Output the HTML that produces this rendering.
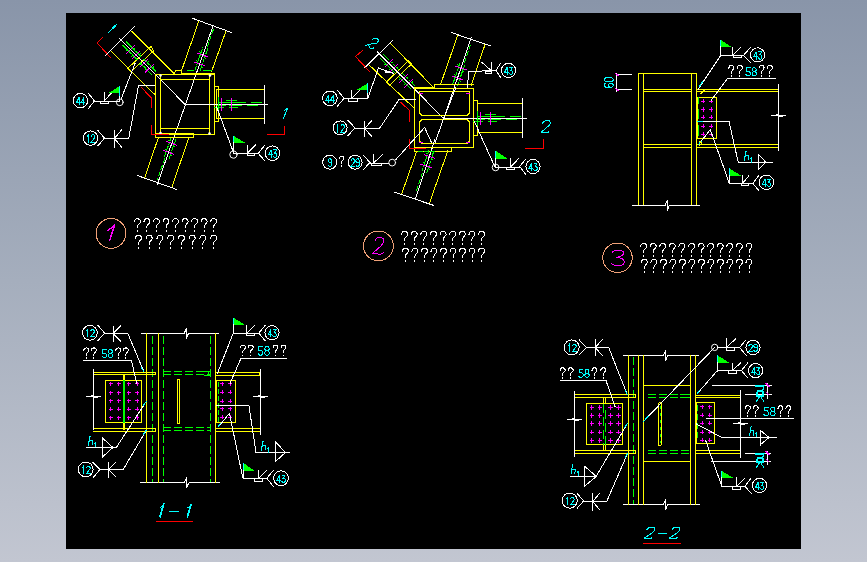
<!DOCTYPE html>
<html><head><meta charset="utf-8"><style>
html,body{margin:0;padding:0;width:867px;height:562px;overflow:hidden;}
body{background:linear-gradient(to bottom,#8995a9 0%,#a5aebd 50%,#c2c6d1 100%);position:relative;font-family:"Liberation Sans",sans-serif;}
#cad{position:absolute;left:66px;top:13px;width:735px;height:536px;background:#000;}
svg{position:absolute;left:0;top:0;}
</style></head><body>
<div id="cad"></div>
<svg width="867" height="562" viewBox="0 0 867 562" fill="none" stroke-linecap="square" shape-rendering="crispEdges">
<polyline points="131.8,31.1 174,73.5" stroke="#ffff00" stroke-width="1"/>
<polyline points="110.5,50.5 155.3,95" stroke="#ffff00" stroke-width="1"/>
<polyline points="105.6,55.6 134.9,26.2" stroke="#ffffff" stroke-width="1"/>
<polyline points="127.8,68.3 150.9,46.5" stroke="#ffff00" stroke-width="1"/>
<polyline points="130.9,71.8 153.6,50.9" stroke="#ffff00" stroke-width="1"/>
<polyline points="127.8,68.3 130.9,71.8" stroke="#ffff00" stroke-width="1"/>
<polyline points="150.9,46.5 153.6,50.9" stroke="#ffff00" stroke-width="1"/>
<polyline points="118.9,38 185.4,104.7" stroke="#ffffff" stroke-width="1"/>
<polyline points="126.32,41.9 140.44,56.06" stroke="#00ff00" stroke-width="1" stroke-dasharray="3,1.5"/>
<polyline points="122.78,45.43 136.9,59.59" stroke="#00ff00" stroke-width="1" stroke-dasharray="3,1.5"/>
<polyline points="143.97,59.6 155.97,71.64" stroke="#00ff00" stroke-width="1" stroke-dasharray="3,1.5"/>
<polyline points="140.43,63.13 152.43,75.17" stroke="#00ff00" stroke-width="1" stroke-dasharray="3,1.5"/>
<polyline points="134.37,45.73 131.19,48.91" stroke="#ff00ff" stroke-width="1"/>
<polyline points="129.77,50.32 126.58,53.5" stroke="#ff00ff" stroke-width="1"/>
<polyline points="134.72,48.21 134.02,48.91" stroke="#00ff00" stroke-width="1"/>
<polyline points="126.94,50.32 126.23,51.02" stroke="#00ff00" stroke-width="1"/>
<polyline points="139.88,51.25 136.69,54.43" stroke="#ff00ff" stroke-width="1"/>
<polyline points="135.28,55.84 132.09,59.02" stroke="#ff00ff" stroke-width="1"/>
<polyline points="140.23,53.73 139.52,54.44" stroke="#00ff00" stroke-width="1"/>
<polyline points="132.45,55.84 131.74,56.55" stroke="#00ff00" stroke-width="1"/>
<polyline points="147.93,59.33 144.74,62.5" stroke="#ff00ff" stroke-width="1"/>
<polyline points="143.33,63.92 140.14,67.09" stroke="#ff00ff" stroke-width="1"/>
<polyline points="148.28,61.8 147.57,62.51" stroke="#00ff00" stroke-width="1"/>
<polyline points="140.5,63.91 139.79,64.62" stroke="#00ff00" stroke-width="1"/>
<polyline points="153.15,64.57 149.97,67.75" stroke="#ff00ff" stroke-width="1"/>
<polyline points="148.55,69.16 145.36,72.33" stroke="#ff00ff" stroke-width="1"/>
<polyline points="153.5,67.04 152.8,67.75" stroke="#00ff00" stroke-width="1"/>
<polyline points="145.72,69.15 145.02,69.86" stroke="#00ff00" stroke-width="1"/>
<polyline points="118.9,38 185.4,104.7" stroke="#ffffff" stroke-width="1"/>
<polyline points="198.7,21.4 181.6,70.5" stroke="#ffff00" stroke-width="1"/>
<polyline points="226.1,30.6 211.6,71.6" stroke="#ffff00" stroke-width="1"/>
<polyline points="192.2,18.2 231.8,32.6" stroke="#ffffff" stroke-width="1"/>
<polyline points="212.8,26.6 185.4,104.7" stroke="#ffffff" stroke-width="1"/>
<polyline points="195.29,68.96 202.9,47.26" stroke="#00ff00" stroke-width="1" stroke-dasharray="3,1.5"/>
<polyline points="200.01,70.61 207.62,48.91" stroke="#00ff00" stroke-width="1" stroke-dasharray="3,1.5"/>
<polyline points="207.34,46.69 213.3,29.71" stroke="#00ff00" stroke-width="1" stroke-dasharray="4,3"/>
<polyline points="194.51,62.12 198.76,63.6" stroke="#ff00ff" stroke-width="1"/>
<polyline points="200.64,64.27 204.89,65.76" stroke="#ff00ff" stroke-width="1"/>
<polyline points="196.59,60.72 197.53,61.06" stroke="#00ff00" stroke-width="1"/>
<polyline points="201.87,66.82 202.81,67.15" stroke="#00ff00" stroke-width="1"/>
<polyline points="197.62,53.25 201.87,54.73" stroke="#ff00ff" stroke-width="1"/>
<polyline points="203.76,55.4 208,56.89" stroke="#ff00ff" stroke-width="1"/>
<polyline points="199.7,51.85 200.64,52.19" stroke="#00ff00" stroke-width="1"/>
<polyline points="204.98,57.95 205.93,58.28" stroke="#00ff00" stroke-width="1"/>
<polyline points="212.8,26.6 185.4,104.7" stroke="#ffffff" stroke-width="1"/>
<polyline points="187,70.5 193,70.5" stroke="#00ff00" stroke-width="1"/>
<polyline points="203.5,70.5 211.6,70.5" stroke="#00ff00" stroke-width="1"/>
<polyline points="174,73.5 175.7,70.6 181,70.6 181.5,72" stroke="#ffff00" stroke-width="1"/>
<polyline points="158.4,137.6 144.7,177.6" stroke="#ffff00" stroke-width="1"/>
<polyline points="188.9,137.6 171.8,187.4" stroke="#ffff00" stroke-width="1"/>
<polyline points="137.3,175.5 176.8,189.5" stroke="#ffffff" stroke-width="1"/>
<polyline points="185.4,104.7 157.2,184.7" stroke="#ffffff" stroke-width="1"/>
<polyline points="175.79,139.48 169.14,158.35" stroke="#00ff00" stroke-width="1" stroke-dasharray="3,1.5"/>
<polyline points="171.07,137.82 164.42,156.68" stroke="#00ff00" stroke-width="1" stroke-dasharray="3,1.5"/>
<polyline points="164.7,158.9 157.39,179.65" stroke="#00ff00" stroke-width="1" stroke-dasharray="4,3"/>
<polyline points="176.96,145.2 172.71,143.7" stroke="#ff00ff" stroke-width="1"/>
<polyline points="170.83,143.04 166.58,141.54" stroke="#ff00ff" stroke-width="1"/>
<polyline points="174.88,146.58 173.93,146.25" stroke="#00ff00" stroke-width="1"/>
<polyline points="169.61,140.48 168.66,140.15" stroke="#00ff00" stroke-width="1"/>
<polyline points="173.8,154.16 169.55,152.66" stroke="#ff00ff" stroke-width="1"/>
<polyline points="167.67,152 163.42,150.5" stroke="#ff00ff" stroke-width="1"/>
<polyline points="171.72,155.54 170.78,155.21" stroke="#00ff00" stroke-width="1"/>
<polyline points="166.45,149.44 165.5,149.11" stroke="#00ff00" stroke-width="1"/>
<polyline points="185.4,104.7 157.2,184.7" stroke="#ffffff" stroke-width="1"/>
<polyline points="158,137.6 184,137.6" stroke="#00ff00" stroke-width="1" stroke-dasharray="5,2"/>
<rect x="155.5" y="133.5" width="38" height="4" stroke="#ffff00" stroke-width="1"/>
<polyline points="155.5,135 155.5,74.5 214.5,74.5 214.5,134.5 155.5,134.5" stroke="#ffff00" stroke-width="1"/>
<polyline points="181.5,73.5 214.5,73.5" stroke="#ffff00" stroke-width="1"/>
<rect x="160.5" y="79.5" width="49" height="49" stroke="#ffff00" stroke-width="1"/>
<polyline points="160.5,74.5 160.5,134" stroke="#ffff00" stroke-width="1"/>
<polyline points="209.5,74.5 209.5,134" stroke="#ffff00" stroke-width="1"/>
<circle cx="160.5" cy="75.5" r="1.3" stroke="#ffffff" stroke-width="0" fill="#ffffff" shape-rendering="geometricPrecision"/>
<circle cx="210" cy="75.5" r="1.3" stroke="#ffffff" stroke-width="0" fill="#ffffff" shape-rendering="geometricPrecision"/>
<circle cx="160.5" cy="133" r="1.3" stroke="#ffffff" stroke-width="0" fill="#ffffff" shape-rendering="geometricPrecision"/>
<circle cx="209.5" cy="133.5" r="1.3" stroke="#ffffff" stroke-width="0" fill="#ffffff" shape-rendering="geometricPrecision"/>
<rect x="214.5" y="86.5" width="4" height="35" stroke="#ffff00" stroke-width="1"/>
<polyline points="216.5,89.5 264.5,89.5" stroke="#ffff00" stroke-width="1"/>
<polyline points="216.5,118.5 264.5,118.5" stroke="#ffff00" stroke-width="1"/>
<polyline points="216.5,89.5 216.5,118.5" stroke="#ffff00" stroke-width="1"/>
<polyline points="264.5,85 264.5,123" stroke="#ffffff" stroke-width="1"/>
<polyline points="185.4,104.5 267.2,104.5" stroke="#ffffff" stroke-width="1"/>
<polyline points="219,102.5 245,102.5" stroke="#00ff00" stroke-width="1"/>
<polyline points="251,102.5 261,102.5" stroke="#00ff00" stroke-width="1"/>
<polyline points="217.5,105.5 225,105.5" stroke="#00ff00" stroke-width="1"/>
<polyline points="229,105.5 241,105.5" stroke="#00ff00" stroke-width="1"/>
<polyline points="247,105.5 257,105.5" stroke="#00ff00" stroke-width="1"/>
<polyline points="226,100.5 236,100.5" stroke="#00ff00" stroke-width="1"/>
<polyline points="214,107.5 223,107.5" stroke="#00ff00" stroke-width="1"/>
<polyline points="229,107.5 237,107.5" stroke="#00ff00" stroke-width="1"/>
<polyline points="221.5,98.7 221.5,110" stroke="#ff00ff" stroke-width="1"/>
<polyline points="231.5,98.7 231.5,110" stroke="#ff00ff" stroke-width="1"/>
<polyline points="218.5,97 218.5,111" stroke="#00ff00" stroke-width="1"/>
<polyline points="102.9,37.3 97,42.8 110.6,57.7" stroke="#ff0000" stroke-width="1"/>
<polyline points="108.3,32.5 116.6,24.4" stroke="#00ffff" stroke-width="1"/>
<polyline points="112.5,27.5 116.6,24.4" stroke="#00ffff" stroke-width="1"/>
<polyline points="109,32 115.5,26" stroke="#00ffff" stroke-width="1"/>
<polyline points="267.2,134.5 284.5,134.5 284.5,126.2" stroke="#ff0000" stroke-width="1"/>
<polyline points="283,119 288,108" stroke="#00ffff" stroke-width="1"/>
<polyline points="284.5,110.5 288,108" stroke="#00ffff" stroke-width="1"/>
<polyline points="283.5,118.5 287,109" stroke="#00ffff" stroke-width="1"/>
<polyline points="141.2,87.3 151.5,98 151.5,107.2" stroke="#ff0000" stroke-width="1"/>
<polyline points="151.5,125.1 151.5,134 168.8,134" stroke="#ff0000" stroke-width="1"/>
<circle cx="80.4" cy="100.6" r="7.2" stroke="#ffffff" stroke-width="1" fill="none"/>
<path d="M 79.16,104.7 L 79.16,97.3 L 76.5,102.39 L 80,102.39" stroke="#00ffff" stroke-width="1" fill="none"/>
<path d="M 83.86,104.7 L 83.86,97.3 L 81.2,102.39 L 84.7,102.39" stroke="#00ffff" stroke-width="1" fill="none"/>
<polyline points="88.3,93.1 94.4,101.1 88.3,108.7" stroke="#ffffff" stroke-width="1"/>
<polyline points="94.4,101.5 119.8,101.5" stroke="#ffffff" stroke-width="1"/>
<rect x="100.5" y="101.5" width="8" height="2" stroke="#ffffff" stroke-width="1"/>
<polyline points="104.5,92.1 104.5,101.5" stroke="#ffffff" stroke-width="1"/>
<polyline points="104.4,100.8 111.5,92.8" stroke="#ffffff" stroke-width="1"/>
<polygon points="109.4,92.5 119.5,86.2 119.5,92.5" fill="#00ff00" stroke="none" stroke-width="1"/>
<polyline points="119.5,86.2 119.5,96" stroke="#00ffff" stroke-width="1"/>
<polyline points="119.5,96 119.5,101.5" stroke="#ffffff" stroke-width="1"/>
<circle cx="119.8" cy="102.3" r="3.4" stroke="#ffffff" stroke-width="1" fill="none" shape-rendering="geometricPrecision"/>
<polyline points="121.2,98.7 135,63.6" stroke="#ffffff" stroke-width="1"/>
<circle cx="90.5" cy="138.1" r="7.2" stroke="#ffffff" stroke-width="1" fill="none"/>
<path d="M 87.3,136.19 L 88.35,134.8 L 88.35,142.2" stroke="#00ffff" stroke-width="1" fill="none"/>
<path d="M 91.3,136.19 L 92.35,134.8 L 93.75,134.8 L 94.8,136.19 L 94.8,137.58 L 91.3,142.2 L 94.8,142.2" stroke="#00ffff" stroke-width="1" fill="none"/>
<polyline points="98,130.5 104.5,138.1 98,145.7" stroke="#ffffff" stroke-width="1"/>
<polyline points="104.5,138.5 128.7,138.5" stroke="#ffffff" stroke-width="1"/>
<polyline points="114.5,130 114.5,147" stroke="#ffffff" stroke-width="1"/>
<polyline points="121.5,130 114.5,138.5 121.5,147" stroke="#ffffff" stroke-width="1"/>
<polyline points="128.7,138.5 138.5,85.5 154.5,85.5" stroke="#ffffff" stroke-width="1"/>
<polyline points="216.5,106.3 232.6,150" stroke="#ffffff" stroke-width="1"/>
<circle cx="233.4" cy="154.6" r="3.6" stroke="#ffffff" stroke-width="1" fill="none" shape-rendering="geometricPrecision"/>
<polygon points="233.4,135.7 245.7,143 233.4,143" fill="#00ff00" stroke="none" stroke-width="1"/>
<polyline points="233.4,136.2 233.4,143.5" stroke="#00ffff" stroke-width="1"/>
<polyline points="233.4,142.5 233.4,153.5" stroke="#ffffff" stroke-width="1"/>
<polyline points="233.4,153.5 258.2,153.5" stroke="#ffffff" stroke-width="1"/>
<rect x="247.5" y="153.5" width="7" height="2" stroke="#ffffff" stroke-width="1"/>
<polyline points="247.5,145 247.5,153.5" stroke="#ffffff" stroke-width="1"/>
<polyline points="247.5,153 255.8,144.9" stroke="#ffffff" stroke-width="1"/>
<circle cx="272.4" cy="153.2" r="7.3" stroke="#ffffff" stroke-width="1" fill="none"/>
<path d="M 271.16,157.3 L 271.16,149.9 L 268.5,154.99 L 272,154.99" stroke="#00ffff" stroke-width="1" fill="none"/>
<path d="M 273.41,149.9 L 276.49,149.9 L 274.6,153.14 L 275.65,153.14 L 276.7,154.53 L 276.7,155.91 L 275.65,157.3 L 274.25,157.3 L 273.2,156.19" stroke="#00ffff" stroke-width="1" fill="none"/>
<polyline points="264.8,145.2 258.2,153.4 264.8,160.8" stroke="#ffffff" stroke-width="1"/>
<polyline points="390.1,43.1 432.8,86.7" stroke="#ffff00" stroke-width="1"/>
<polyline points="368.7,64.5 415,109" stroke="#ffff00" stroke-width="1"/>
<polyline points="364.3,68 392.7,40.5" stroke="#ffffff" stroke-width="1"/>
<polyline points="386.2,82.3 408.6,60.5" stroke="#ffff00" stroke-width="1"/>
<polyline points="389.3,85.4 411.8,63.6" stroke="#ffff00" stroke-width="1"/>
<polyline points="386.2,82.3 389.3,85.4" stroke="#ffff00" stroke-width="1"/>
<polyline points="408.6,60.5 411.8,63.6" stroke="#ffff00" stroke-width="1"/>
<polyline points="377.6,52 443.7,118.5" stroke="#ffffff" stroke-width="1"/>
<polyline points="383.6,54.49 398.41,69.39" stroke="#00ff00" stroke-width="1" stroke-dasharray="3,1.5"/>
<polyline points="380.06,58.02 394.86,72.91" stroke="#00ff00" stroke-width="1" stroke-dasharray="3,1.5"/>
<polyline points="402.64,73.64 414.62,85.7" stroke="#00ff00" stroke-width="1" stroke-dasharray="3,1.5"/>
<polyline points="399.09,77.17 411.08,89.22" stroke="#00ff00" stroke-width="1" stroke-dasharray="3,1.5"/>
<polyline points="392.78,59.47 389.59,62.64" stroke="#ff00ff" stroke-width="1"/>
<polyline points="388.17,64.05 384.98,67.23" stroke="#ff00ff" stroke-width="1"/>
<polyline points="393.13,61.95 392.42,62.65" stroke="#00ff00" stroke-width="1"/>
<polyline points="385.34,64.04 384.63,64.75" stroke="#00ff00" stroke-width="1"/>
<polyline points="397.72,64.44 394.52,67.61" stroke="#ff00ff" stroke-width="1"/>
<polyline points="393.11,69.02 389.91,72.19" stroke="#ff00ff" stroke-width="1"/>
<polyline points="398.06,66.91 397.35,67.62" stroke="#00ff00" stroke-width="1"/>
<polyline points="390.28,69.01 389.57,69.71" stroke="#00ff00" stroke-width="1"/>
<polyline points="407.58,74.36 404.39,77.54" stroke="#ff00ff" stroke-width="1"/>
<polyline points="402.97,78.95 399.78,82.12" stroke="#ff00ff" stroke-width="1"/>
<polyline points="407.93,76.84 407.22,77.55" stroke="#00ff00" stroke-width="1"/>
<polyline points="400.15,78.94 399.44,79.64" stroke="#00ff00" stroke-width="1"/>
<polyline points="412.52,79.33 409.33,82.5" stroke="#ff00ff" stroke-width="1"/>
<polyline points="407.91,83.91 404.72,87.08" stroke="#ff00ff" stroke-width="1"/>
<polyline points="412.87,81.81 412.16,82.51" stroke="#00ff00" stroke-width="1"/>
<polyline points="405.08,83.9 404.37,84.61" stroke="#00ff00" stroke-width="1"/>
<polyline points="377.6,52 443.7,118.5" stroke="#ffffff" stroke-width="1"/>
<polyline points="363,50.2 355.4,56.5 369.6,71.6" stroke="#ff0000" stroke-width="1"/>
<polyline points="372.5,39.6 373.5,38.3 376.7,38.3 378.9,40.4 376.7,43.1 368.2,44.4 366,45.5" stroke="#00ffff" stroke-width="1"/>
<polyline points="368.2,44.4 369.3,47.1 370.9,48.7 373.8,48.7 373.5,47.1" stroke="#00ffff" stroke-width="1"/>
<polyline points="457.8,35.1 440.6,84.4" stroke="#ffff00" stroke-width="1"/>
<polyline points="484.9,44.9 471.2,85" stroke="#ffff00" stroke-width="1"/>
<polyline points="451.2,32.5 489.9,45.8" stroke="#ffffff" stroke-width="1"/>
<polyline points="471.2,37.8 443.7,118.5" stroke="#ffffff" stroke-width="1"/>
<polyline points="452.95,83.62 460.04,62.79" stroke="#00ff00" stroke-width="1" stroke-dasharray="3,1.5"/>
<polyline points="457.68,85.23 464.77,64.41" stroke="#00ff00" stroke-width="1" stroke-dasharray="3,1.5"/>
<polyline points="464.47,62.19 470.92,43.26" stroke="#00ff00" stroke-width="1" stroke-dasharray="4,3"/>
<polyline points="452.3,76.21 456.56,77.67" stroke="#ff00ff" stroke-width="1"/>
<polyline points="458.45,78.31 462.71,79.76" stroke="#ff00ff" stroke-width="1"/>
<polyline points="454.36,74.8 455.31,75.13" stroke="#00ff00" stroke-width="1"/>
<polyline points="459.7,80.85 460.65,81.17" stroke="#00ff00" stroke-width="1"/>
<polyline points="455.69,66.27 459.95,67.73" stroke="#ff00ff" stroke-width="1"/>
<polyline points="461.84,68.37 466.1,69.82" stroke="#ff00ff" stroke-width="1"/>
<polyline points="457.75,64.87 458.7,65.19" stroke="#00ff00" stroke-width="1"/>
<polyline points="463.09,70.91 464.03,71.23" stroke="#00ff00" stroke-width="1"/>
<polyline points="471.2,37.8 443.7,118.5" stroke="#ffffff" stroke-width="1"/>
<polyline points="434.7,88 434.7,84.5 473.5,84.5" stroke="#ffff00" stroke-width="1"/>
<rect x="414.5" y="88.5" width="59" height="59" stroke="#ffff00" stroke-width="1"/>
<polyline points="414.5,87.5 434.7,87.5" stroke="#ffff00" stroke-width="1"/>
<polyline points="419.5,91.5 469.5,91.5" stroke="#ffff00" stroke-width="1"/>
<polyline points="469.5,91.5 469.5,113 467,115.5 422,115.5 419.5,113 419.5,91.5" stroke="#ffff00" stroke-width="1"/>
<polyline points="422,119.5 467,119.5 469.5,122 469.5,141 467,143.5 422,143.5 419.5,141 419.5,122 422,119.5" stroke="#ffff00" stroke-width="1"/>
<polyline points="419.5,93.5 422.5,93.5" stroke="#ff00ff" stroke-width="1"/>
<polyline points="466.5,93.5 469.5,93.5" stroke="#ff00ff" stroke-width="1"/>
<polyline points="419.5,142 422.5,142" stroke="#ff00ff" stroke-width="1"/>
<polyline points="466.5,142 469.5,142" stroke="#ff00ff" stroke-width="1"/>
<rect x="473.5" y="100.5" width="4" height="35" stroke="#ffff00" stroke-width="1"/>
<polyline points="477.5,103.5 522.5,103.5" stroke="#ffff00" stroke-width="1"/>
<polyline points="477.5,132.5 522.5,132.5" stroke="#ffff00" stroke-width="1"/>
<polyline points="522.5,98 522.5,137.7" stroke="#ffffff" stroke-width="1"/>
<polyline points="443.7,118.5 526.7,118.5" stroke="#ffffff" stroke-width="1"/>
<polyline points="478,116.5 504,116.5" stroke="#00ff00" stroke-width="1"/>
<polyline points="510,116.5 520,116.5" stroke="#00ff00" stroke-width="1"/>
<polyline points="476.5,119.5 484,119.5" stroke="#00ff00" stroke-width="1"/>
<polyline points="488,119.5 500,119.5" stroke="#00ff00" stroke-width="1"/>
<polyline points="506,119.5 516,119.5" stroke="#00ff00" stroke-width="1"/>
<polyline points="485,114.5 495,114.5" stroke="#00ff00" stroke-width="1"/>
<polyline points="473,121.5 482,121.5" stroke="#00ff00" stroke-width="1"/>
<polyline points="488,121.5 496,121.5" stroke="#00ff00" stroke-width="1"/>
<polyline points="480.5,112.7 480.5,124" stroke="#ff00ff" stroke-width="1"/>
<polyline points="490.5,112.7 490.5,124" stroke="#ff00ff" stroke-width="1"/>
<polyline points="477.5,111 477.5,125" stroke="#00ff00" stroke-width="1"/>
<polyline points="443.7,118.5 455.7,88" stroke="#ffffff" stroke-width="1"/>
<polyline points="443.7,118.5 435,142.7" stroke="#ffffff" stroke-width="1"/>
<polyline points="416.8,151.2 401.8,193.6" stroke="#ffff00" stroke-width="1"/>
<polyline points="447.9,150.6 429.8,202.3" stroke="#ffff00" stroke-width="1"/>
<polyline points="395,192.3 433.6,205.4" stroke="#ffffff" stroke-width="1"/>
<polyline points="434.8,140 415.5,198.6" stroke="#ffffff" stroke-width="1"/>
<polyline points="433.38,152.51 426.78,172.45" stroke="#00ff00" stroke-width="1" stroke-dasharray="3,1.5"/>
<polyline points="428.63,150.94 422.04,170.88" stroke="#00ff00" stroke-width="1" stroke-dasharray="3,1.5"/>
<polyline points="422.36,173.09 416.08,192.08" stroke="#00ff00" stroke-width="1" stroke-dasharray="4,3"/>
<polyline points="434.66,158.2 430.39,156.79" stroke="#ff00ff" stroke-width="1"/>
<polyline points="428.49,156.16 424.21,154.75" stroke="#ff00ff" stroke-width="1"/>
<polyline points="432.61,159.63 431.66,159.32" stroke="#00ff00" stroke-width="1"/>
<polyline points="427.22,153.63 426.27,153.32" stroke="#00ff00" stroke-width="1"/>
<polyline points="431.52,167.7 427.24,166.28" stroke="#ff00ff" stroke-width="1"/>
<polyline points="425.35,165.66 421.07,164.24" stroke="#ff00ff" stroke-width="1"/>
<polyline points="429.46,169.12 428.52,168.81" stroke="#00ff00" stroke-width="1"/>
<polyline points="424.08,163.13 423.13,162.81" stroke="#00ff00" stroke-width="1"/>
<polyline points="434.8,140 415.5,198.6" stroke="#ffffff" stroke-width="1"/>
<rect x="414.5" y="147.5" width="37" height="4" stroke="#ffff00" stroke-width="1"/>
<polyline points="418,151.5 434,151.5" stroke="#00ff00" stroke-width="1" stroke-dasharray="4,2"/>
<polyline points="400.3,102 409.5,110.5 409.5,121.7" stroke="#ff0000" stroke-width="1"/>
<polyline points="409.5,139 409.5,148.5 425.7,148.5" stroke="#ff0000" stroke-width="1"/>
<polyline points="525,148.5 543.5,148.5 543.5,139" stroke="#ff0000" stroke-width="1"/>
<path d="M542.5,123.5 C543.5,121 546,120.3 548.5,120.5 C550.5,121 551,123 549.5,125 L541.5,132 L542,132.5 L548.5,132.5 L548.8,131.5" stroke="#00ffff" stroke-width="1" fill="none"/>
<circle cx="329.9" cy="98.3" r="7.3" stroke="#ffffff" stroke-width="1" fill="none"/>
<path d="M 328.66,102.4 L 328.66,95 L 326,100.09 L 329.5,100.09" stroke="#00ffff" stroke-width="1" fill="none"/>
<path d="M 333.36,102.4 L 333.36,95 L 330.7,100.09 L 334.2,100.09" stroke="#00ffff" stroke-width="1" fill="none"/>
<polyline points="337.5,90.5 344.2,98.3 337.5,106" stroke="#ffffff" stroke-width="1"/>
<polyline points="344.2,98.5 367.8,98.5" stroke="#ffffff" stroke-width="1"/>
<rect x="348.5" y="98.5" width="8.5" height="3" stroke="#ffffff" stroke-width="1"/>
<polyline points="351.8,90.5 351.8,98.5" stroke="#ffffff" stroke-width="1"/>
<polyline points="351.8,98 360.7,89.5" stroke="#ffffff" stroke-width="1"/>
<polygon points="357.5,89.5 367.8,83.3 367.8,89.5" fill="#00ff00" stroke="none" stroke-width="1"/>
<polyline points="367.8,83.3 367.8,93" stroke="#00ffff" stroke-width="1"/>
<polyline points="367.8,93 367.8,98.5" stroke="#ffffff" stroke-width="1"/>
<polyline points="367.8,98.3 378.5,68 393.6,73.4" stroke="#ffffff" stroke-width="1"/>
<polygon points="384,69.5 393.6,73.4 385,73" fill="#ffffff" stroke="none" stroke-width="1"/>
<circle cx="508.5" cy="70.4" r="7.1" stroke="#ffffff" stroke-width="1" fill="none"/>
<path d="M 507.26,74.5 L 507.26,67.1 L 504.6,72.19 L 508.1,72.19" stroke="#00ffff" stroke-width="1" fill="none"/>
<path d="M 509.51,67.1 L 512.59,67.1 L 510.7,70.34 L 511.75,70.34 L 512.8,71.73 L 512.8,73.11 L 511.75,74.5 L 510.35,74.5 L 509.3,73.39" stroke="#00ffff" stroke-width="1" fill="none"/>
<polyline points="501,62.8 496,70.4 501,78" stroke="#ffffff" stroke-width="1"/>
<polyline points="496,70.5 468.5,71.5 467.6,87.6" stroke="#ffffff" stroke-width="1"/>
<rect x="485.5" y="71.5" width="6" height="2" stroke="#ffffff" stroke-width="1"/>
<polyline points="491.6,62.5 491.6,71" stroke="#ffffff" stroke-width="1"/>
<polyline points="491.6,71 481.8,62.3" stroke="#ffffff" stroke-width="1"/>
<circle cx="340.1" cy="127.9" r="7" stroke="#ffffff" stroke-width="1" fill="none"/>
<path d="M 336.9,125.99 L 337.95,124.6 L 337.95,132" stroke="#00ffff" stroke-width="1" fill="none"/>
<path d="M 340.9,125.99 L 341.95,124.6 L 343.35,124.6 L 344.4,125.99 L 344.4,127.38 L 340.9,132 L 344.4,132" stroke="#00ffff" stroke-width="1" fill="none"/>
<polyline points="348,120.5 355.1,127.9 348,135.5" stroke="#ffffff" stroke-width="1"/>
<polyline points="355.1,128.5 379.4,128.5" stroke="#ffffff" stroke-width="1"/>
<polyline points="364.5,121 364.5,136" stroke="#ffffff" stroke-width="1"/>
<polyline points="371.5,121 364.5,128.5 371.5,136" stroke="#ffffff" stroke-width="1"/>
<polyline points="379.4,128.5 399.1,99.5 415.3,99.5" stroke="#ffffff" stroke-width="1"/>
<circle cx="329.7" cy="162.2" r="7" stroke="#ffffff" stroke-width="1" fill="none"/>
<path d="M 331.65,162.41 L 329.2,162.41 L 328.15,161.21 L 328.15,160.29 L 329.2,158.9 L 330.6,158.9 L 331.65,160.29 L 331.65,164.91 L 330.6,166.3 L 329.2,166.3 L 328.15,165.19" stroke="#00ffff" stroke-width="1" fill="none"/>
<path d="M 339.45,158.7 C 339.45,157.05 340.5,156.38 341.7,156.38 C 343.05,156.38 343.95,157.2 343.95,158.55 C 343.95,160.2 341.7,160.65 341.7,162.15 L 341.7,163.2 M 341.7,165.45 L 341.7,166.2" stroke="#ffffff" stroke-width="1" fill="none"/>
<circle cx="355.1" cy="162.2" r="7" stroke="#ffffff" stroke-width="1" fill="none"/>
<path d="M 351.2,160.29 L 352.25,158.9 L 353.65,158.9 L 354.7,160.29 L 354.7,161.68 L 351.2,166.3 L 354.7,166.3" stroke="#00ffff" stroke-width="1" fill="none"/>
<path d="M 359.4,162.41 L 356.95,162.41 L 355.9,161.21 L 355.9,160.29 L 356.95,158.9 L 358.35,158.9 L 359.4,160.29 L 359.4,164.91 L 358.35,166.3 L 356.95,166.3 L 355.9,165.19" stroke="#00ffff" stroke-width="1" fill="none"/>
<polyline points="363,155 370,162.5 363,170" stroke="#ffffff" stroke-width="1"/>
<polyline points="370,163.5 388.8,163.5" stroke="#ffffff" stroke-width="1"/>
<rect x="371.5" y="163.5" width="9.5" height="2" stroke="#ffffff" stroke-width="1"/>
<polyline points="373.6,154 373.6,163.5" stroke="#ffffff" stroke-width="1"/>
<polyline points="373.6,163 383,154" stroke="#ffffff" stroke-width="1"/>
<circle cx="392.2" cy="162.6" r="3.4" stroke="#ffffff" stroke-width="1" fill="none" shape-rendering="geometricPrecision"/>
<polyline points="395.6,159.9 424.6,127.5 431.5,142.5" stroke="#ffffff" stroke-width="1"/>
<polyline points="474.2,121.1 494.7,166.5" stroke="#ffffff" stroke-width="1"/>
<circle cx="495.6" cy="167.4" r="3.4" stroke="#ffffff" stroke-width="1" fill="none" shape-rendering="geometricPrecision"/>
<polygon points="495.6,150.9 507.6,158.9 495.6,158.9" fill="#00ff00" stroke="none" stroke-width="1"/>
<polyline points="495.6,151.4 495.6,159.4" stroke="#00ffff" stroke-width="1"/>
<polyline points="495.6,158.4 495.6,167" stroke="#ffffff" stroke-width="1"/>
<polyline points="495.6,167 519.6,167" stroke="#ffffff" stroke-width="1"/>
<rect x="506.5" y="167" width="8" height="2.5" stroke="#ffffff" stroke-width="1"/>
<polyline points="510.7,158.5 510.7,167" stroke="#ffffff" stroke-width="1"/>
<polyline points="510.7,167 518.7,158.5" stroke="#ffffff" stroke-width="1"/>
<polyline points="525.8,159 519.6,166.5 525.8,174.5" stroke="#ffffff" stroke-width="1"/>
<circle cx="533" cy="166.5" r="7.1" stroke="#ffffff" stroke-width="1" fill="none"/>
<path d="M 531.76,170.6 L 531.76,163.2 L 529.1,168.29 L 532.6,168.29" stroke="#00ffff" stroke-width="1" fill="none"/>
<path d="M 534.01,163.2 L 537.09,163.2 L 535.2,166.44 L 536.25,166.44 L 537.3,167.83 L 537.3,169.21 L 536.25,170.6 L 534.85,170.6 L 533.8,169.49" stroke="#00ffff" stroke-width="1" fill="none"/>
<polyline points="638.5,73.5 638.5,205" stroke="#ffff00" stroke-width="1"/>
<polyline points="643.5,73.5 643.5,205" stroke="#ffff00" stroke-width="1"/>
<polyline points="691.5,73.5 691.5,205" stroke="#ffff00" stroke-width="1"/>
<polyline points="696.5,73.5 696.5,205" stroke="#ffff00" stroke-width="1"/>
<polyline points="638.5,73.5 696.5,73.5" stroke="#ffff00" stroke-width="1"/>
<polyline points="643.5,89.5 691.5,89.5" stroke="#ffff00" stroke-width="1"/>
<polyline points="643.5,91.5 691.5,91.5" stroke="#ffff00" stroke-width="1"/>
<polyline points="696.5,89.5 778,89.5" stroke="#ffff00" stroke-width="1"/>
<polyline points="696.5,91.5 778,91.5" stroke="#ffff00" stroke-width="1"/>
<polyline points="643.5,144.5 691.5,144.5" stroke="#ffff00" stroke-width="1"/>
<polyline points="643.5,147.5 691.5,147.5" stroke="#ffff00" stroke-width="1"/>
<polyline points="696.5,144.5 778,144.5" stroke="#ffff00" stroke-width="1"/>
<polyline points="696.5,147.5 778,147.5" stroke="#ffff00" stroke-width="1"/>
<polyline points="632.9,205.5 665,205.5" stroke="#ffffff" stroke-width="1"/>
<polyline points="664.8,205.5 666.3,202.5 667.3,200.5 667.3,210.5 668.8,206.5 669.8,205.5" stroke="#ffffff" stroke-width="1"/>
<polyline points="670.3,205.5 699.9,205.5" stroke="#ffffff" stroke-width="1"/>
<polyline points="778.5,84.8 778.5,115" stroke="#ffffff" stroke-width="1"/>
<polyline points="778.5,113.5 778.5,115 771.5,115.5 785.5,115.5 778.5,117 778.5,119" stroke="#ffffff" stroke-width="1"/>
<polyline points="777,114.5 780,116.5" stroke="#ffffff" stroke-width="1"/>
<polyline points="778.5,119 778.5,150.7" stroke="#ffffff" stroke-width="1"/>
<rect x="697.5" y="97.5" width="19" height="41" stroke="#ffff00" stroke-width="1"/>
<polyline points="701.6,101.2 704.8,101.2" stroke="#ff00ff" stroke-width="1"/>
<polyline points="703.2,99.6 703.2,102.8" stroke="#ff00ff" stroke-width="1"/>
<polyline points="701.6,109.4 704.8,109.4" stroke="#ff00ff" stroke-width="1"/>
<polyline points="703.2,107.8 703.2,111" stroke="#ff00ff" stroke-width="1"/>
<polyline points="701.6,117.2 704.8,117.2" stroke="#ff00ff" stroke-width="1"/>
<polyline points="703.2,115.6 703.2,118.8" stroke="#ff00ff" stroke-width="1"/>
<polyline points="701.6,126.1 704.8,126.1" stroke="#ff00ff" stroke-width="1"/>
<polyline points="703.2,124.5 703.2,127.7" stroke="#ff00ff" stroke-width="1"/>
<polyline points="701.6,134.1 704.8,134.1" stroke="#ff00ff" stroke-width="1"/>
<polyline points="703.2,132.5 703.2,135.7" stroke="#ff00ff" stroke-width="1"/>
<polyline points="709.4,101.2 712.6,101.2" stroke="#ff00ff" stroke-width="1"/>
<polyline points="711,99.6 711,102.8" stroke="#ff00ff" stroke-width="1"/>
<polyline points="709.4,109.4 712.6,109.4" stroke="#ff00ff" stroke-width="1"/>
<polyline points="711,107.8 711,111" stroke="#ff00ff" stroke-width="1"/>
<polyline points="709.4,117.2 712.6,117.2" stroke="#ff00ff" stroke-width="1"/>
<polyline points="711,115.6 711,118.8" stroke="#ff00ff" stroke-width="1"/>
<polyline points="709.4,126.1 712.6,126.1" stroke="#ff00ff" stroke-width="1"/>
<polyline points="711,124.5 711,127.7" stroke="#ff00ff" stroke-width="1"/>
<polyline points="709.4,134.1 712.6,134.1" stroke="#ff00ff" stroke-width="1"/>
<polyline points="711,132.5 711,135.7" stroke="#ff00ff" stroke-width="1"/>
<polyline points="698.5,97 698.5,103" stroke="#00ff00" stroke-width="1"/>
<polyline points="698.5,109 698.5,118.5" stroke="#00ff00" stroke-width="1"/>
<polyline points="698.5,125 698.5,135" stroke="#00ff00" stroke-width="1"/>
<polyline points="616,74.5 631.5,74.5" stroke="#ffffff" stroke-width="1"/>
<polyline points="616,89.5 631.5,89.5" stroke="#ffffff" stroke-width="1"/>
<polyline points="616.5,73 616.5,91" stroke="#ffffff" stroke-width="1"/>
<polyline points="615,73 618,75.5" stroke="#ff00ff" stroke-width="1"/>
<polyline points="615,88 618,90.5" stroke="#ff00ff" stroke-width="1"/>
<g transform="translate(604.5,87.5) rotate(-90)">
<path d="M 3.96,0.53 L 3.52,0 L 1.32,0 L 0,1.59 L 0,6.91 L 1.32,8.5 L 3.08,8.5 L 4.4,6.91 L 4.4,5.84 L 3.08,4.25 L 1.32,4.25 L 0,5.84" stroke="#00ffff" stroke-width="1" fill="none"/>
<path d="M 6.92,0 L 8.68,0 L 10,1.59 L 10,6.91 L 8.68,8.5 L 6.92,8.5 L 5.6,6.91 L 5.6,1.59 Z" stroke="#00ffff" stroke-width="1" fill="none"/>
</g>
<polyline points="720.6,55.5 698.2,89.3" stroke="#ffffff" stroke-width="1"/>
<polyline points="699,87 703,81" stroke="#00ffff" stroke-width="1"/>
<polygon points="720.5,39.8 732.2,47.4 720.5,47.4" fill="#00ff00" stroke="none" stroke-width="1"/>
<polyline points="720.5,40.3 720.5,47.9" stroke="#00ffff" stroke-width="1"/>
<polyline points="720.5,46.9 720.5,55.5" stroke="#ffffff" stroke-width="1"/>
<polyline points="720.5,55.5 743.4,55.5" stroke="#ffffff" stroke-width="1"/>
<rect x="733" y="55.5" width="8" height="2" stroke="#ffffff" stroke-width="1"/>
<polyline points="732.7,47.5 732.7,55.5" stroke="#ffffff" stroke-width="1"/>
<polyline points="732.7,55.5 740.7,47.5" stroke="#ffffff" stroke-width="1"/>
<polyline points="750.5,47.5 743.4,55.5 750.5,62.6" stroke="#ffffff" stroke-width="1"/>
<circle cx="757.6" cy="54.9" r="7.1" stroke="#ffffff" stroke-width="1" fill="none"/>
<path d="M 756.36,59 L 756.36,51.6 L 753.7,56.69 L 757.2,56.69" stroke="#00ffff" stroke-width="1" fill="none"/>
<path d="M 758.61,51.6 L 761.69,51.6 L 759.8,54.84 L 760.85,54.84 L 761.9,56.22 L 761.9,57.61 L 760.85,59 L 759.45,59 L 758.4,57.89" stroke="#00ffff" stroke-width="1" fill="none"/>
<path d="M 728.81,68.06 C 728.81,66.19 730,65.42 731.36,65.42 C 732.89,65.42 733.91,66.36 733.91,67.89 C 733.91,69.76 731.36,70.27 731.36,71.97 L 731.36,73.16 M 731.36,75.71 L 731.36,76.56" stroke="#ffffff" stroke-width="1" fill="none"/>
<path d="M 737.26,68.06 C 737.26,66.19 738.45,65.42 739.81,65.42 C 741.34,65.42 742.36,66.36 742.36,67.89 C 742.36,69.76 739.81,70.27 739.81,71.97 L 739.81,73.16 M 739.81,75.71 L 739.81,76.56" stroke="#ffffff" stroke-width="1" fill="none"/>
<path d="M 750.14,67.8 L 746.44,67.8 L 746.26,71.3 L 749.08,71.3 L 750.4,72.8 L 750.4,74.3 L 749.08,75.8 L 747.32,75.8 L 746,74.6" stroke="#00ffff" stroke-width="1" fill="none"/>
<path d="M 753.32,67.8 L 755.08,67.8 L 756.14,69 L 756.14,70.4 L 755.08,71.6 L 753.32,71.6 L 752.26,70.4 L 752.26,69 Z M 753.32,71.6 L 752,73.1 L 752,74.3 L 753.32,75.8 L 755.08,75.8 L 756.4,74.3 L 756.4,73.1 L 755.08,71.6" stroke="#00ffff" stroke-width="1" fill="none"/>
<path d="M 759.01,68.06 C 759.01,66.19 760.2,65.42 761.56,65.42 C 763.09,65.42 764.11,66.36 764.11,67.89 C 764.11,69.76 761.56,70.27 761.56,71.97 L 761.56,73.16 M 761.56,75.71 L 761.56,76.56" stroke="#ffffff" stroke-width="1" fill="none"/>
<path d="M 767.26,68.06 C 767.26,66.19 768.45,65.42 769.81,65.42 C 771.34,65.42 772.36,66.36 772.36,67.89 C 772.36,69.76 769.81,70.27 769.81,71.97 L 769.81,73.16 M 769.81,75.71 L 769.81,76.56" stroke="#ffffff" stroke-width="1" fill="none"/>
<polyline points="727.4,78.5 775.8,78.5" stroke="#ffffff" stroke-width="1"/>
<polyline points="727.6,78.5 711.5,100" stroke="#ffffff" stroke-width="1"/>
<polyline points="697,121.5 729,121.5 738.3,162.5 772.6,162.5" stroke="#ffffff" stroke-width="1"/>
<polyline points="697.5,121.5 702,121.5" stroke="#00ffff" stroke-width="1"/>
<polyline points="758.7,154.5 758.7,169.6" stroke="#ffffff" stroke-width="1"/>
<polyline points="758.7,154.5 765.9,162.3 758.7,169.6" stroke="#ffffff" stroke-width="1"/>
<path d="M 746.1,151 L 744.5,160 M 745,156.5 L 746.7,155 L 748.5,155 L 748.9,156 L 748.1,160 M 751.5,157.5 L 751.5,162 M 750.7,158.3 L 751.5,157.5" stroke="#00ffff" stroke-width="1" fill="none"/>
<polyline points="710.3,129.6 729,182.5" stroke="#ffffff" stroke-width="1"/>
<polygon points="729,168.3 741,175.5 729,175.5" fill="#00ff00" stroke="none" stroke-width="1"/>
<polyline points="729,168.8 729,176" stroke="#00ffff" stroke-width="1"/>
<polyline points="729,175 729,183" stroke="#ffffff" stroke-width="1"/>
<polyline points="729,183.5 752.9,183.5" stroke="#ffffff" stroke-width="1"/>
<rect x="741.5" y="183.5" width="7" height="2" stroke="#ffffff" stroke-width="1"/>
<polyline points="742.5,175 742.5,183.5" stroke="#ffffff" stroke-width="1"/>
<polyline points="742.5,183.5 748.7,176" stroke="#ffffff" stroke-width="1"/>
<polyline points="758.7,175.5 752.9,183.3 758.7,190.5" stroke="#ffffff" stroke-width="1"/>
<circle cx="766.4" cy="182.3" r="7.3" stroke="#ffffff" stroke-width="1" fill="none"/>
<path d="M 765.16,186.4 L 765.16,179 L 762.5,184.09 L 766,184.09" stroke="#00ffff" stroke-width="1" fill="none"/>
<path d="M 767.41,179 L 770.49,179 L 768.6,182.24 L 769.65,182.24 L 770.7,183.63 L 770.7,185.01 L 769.65,186.4 L 768.25,186.4 L 767.2,185.29" stroke="#00ffff" stroke-width="1" fill="none"/>
<polyline points="710.3,129.6 701,141.5" stroke="#ffffff" stroke-width="1"/>
<polyline points="701,141.5 698.7,144.2" stroke="#00ffff" stroke-width="1"/>
<polyline points="699,141 702,143 699,146" stroke="#ffff00" stroke-width="1"/>
<polyline points="700,94 703,92 705,89" stroke="#ffff00" stroke-width="1"/>
<circle cx="111" cy="233.4" r="14.9" stroke="#f0a078" stroke-width="1" fill="none"/>
<polyline points="108,230.5 114.4,225.4 109.8,240.2" stroke="#ff00ff" stroke-width="1.5"/>
<path d="M 134.4,221.8 C 134.4,219.6 135.8,218.7 137.4,218.7 C 139.2,218.7 140.4,219.8 140.4,221.6 C 140.4,223.8 137.4,224.4 137.4,226.4 L 137.4,227.8 M 137.4,230.8 L 137.4,231.8" stroke="#ffffff" stroke-width="1" fill="none"/>
<path d="M 143.94,221.8 C 143.94,219.6 145.34,218.7 146.94,218.7 C 148.74,218.7 149.94,219.8 149.94,221.6 C 149.94,223.8 146.94,224.4 146.94,226.4 L 146.94,227.8 M 146.94,230.8 L 146.94,231.8" stroke="#ffffff" stroke-width="1" fill="none"/>
<path d="M 153.47,221.8 C 153.47,219.6 154.88,218.7 156.47,218.7 C 158.28,218.7 159.47,219.8 159.47,221.6 C 159.47,223.8 156.47,224.4 156.47,226.4 L 156.47,227.8 M 156.47,230.8 L 156.47,231.8" stroke="#ffffff" stroke-width="1" fill="none"/>
<path d="M 163.01,221.8 C 163.01,219.6 164.41,218.7 166.01,218.7 C 167.81,218.7 169.01,219.8 169.01,221.6 C 169.01,223.8 166.01,224.4 166.01,226.4 L 166.01,227.8 M 166.01,230.8 L 166.01,231.8" stroke="#ffffff" stroke-width="1" fill="none"/>
<path d="M 172.55,221.8 C 172.55,219.6 173.95,218.7 175.55,218.7 C 177.35,218.7 178.55,219.8 178.55,221.6 C 178.55,223.8 175.55,224.4 175.55,226.4 L 175.55,227.8 M 175.55,230.8 L 175.55,231.8" stroke="#ffffff" stroke-width="1" fill="none"/>
<path d="M 182.09,221.8 C 182.09,219.6 183.49,218.7 185.09,218.7 C 186.89,218.7 188.09,219.8 188.09,221.6 C 188.09,223.8 185.09,224.4 185.09,226.4 L 185.09,227.8 M 185.09,230.8 L 185.09,231.8" stroke="#ffffff" stroke-width="1" fill="none"/>
<path d="M 191.62,221.8 C 191.62,219.6 193.03,218.7 194.62,218.7 C 196.43,218.7 197.62,219.8 197.62,221.6 C 197.62,223.8 194.62,224.4 194.62,226.4 L 194.62,227.8 M 194.62,230.8 L 194.62,231.8" stroke="#ffffff" stroke-width="1" fill="none"/>
<path d="M 201.16,221.8 C 201.16,219.6 202.56,218.7 204.16,218.7 C 205.96,218.7 207.16,219.8 207.16,221.6 C 207.16,223.8 204.16,224.4 204.16,226.4 L 204.16,227.8 M 204.16,230.8 L 204.16,231.8" stroke="#ffffff" stroke-width="1" fill="none"/>
<path d="M 210.7,221.8 C 210.7,219.6 212.1,218.7 213.7,218.7 C 215.5,218.7 216.7,219.8 216.7,221.6 C 216.7,223.8 213.7,224.4 213.7,226.4 L 213.7,227.8 M 213.7,230.8 L 213.7,231.8" stroke="#ffffff" stroke-width="1" fill="none"/>
<path d="M 135.5,238.4 C 135.5,236.2 136.9,235.3 138.5,235.3 C 140.3,235.3 141.5,236.4 141.5,238.2 C 141.5,240.4 138.5,241 138.5,243 L 138.5,244.4 M 138.5,247.4 L 138.5,248.4" stroke="#ffffff" stroke-width="1" fill="none"/>
<path d="M 146.24,238.4 C 146.24,236.2 147.64,235.3 149.24,235.3 C 151.04,235.3 152.24,236.4 152.24,238.2 C 152.24,240.4 149.24,241 149.24,243 L 149.24,244.4 M 149.24,247.4 L 149.24,248.4" stroke="#ffffff" stroke-width="1" fill="none"/>
<path d="M 156.99,238.4 C 156.99,236.2 158.39,235.3 159.99,235.3 C 161.79,235.3 162.99,236.4 162.99,238.2 C 162.99,240.4 159.99,241 159.99,243 L 159.99,244.4 M 159.99,247.4 L 159.99,248.4" stroke="#ffffff" stroke-width="1" fill="none"/>
<path d="M 167.73,238.4 C 167.73,236.2 169.13,235.3 170.73,235.3 C 172.53,235.3 173.73,236.4 173.73,238.2 C 173.73,240.4 170.73,241 170.73,243 L 170.73,244.4 M 170.73,247.4 L 170.73,248.4" stroke="#ffffff" stroke-width="1" fill="none"/>
<path d="M 178.47,238.4 C 178.47,236.2 179.87,235.3 181.47,235.3 C 183.27,235.3 184.47,236.4 184.47,238.2 C 184.47,240.4 181.47,241 181.47,243 L 181.47,244.4 M 181.47,247.4 L 181.47,248.4" stroke="#ffffff" stroke-width="1" fill="none"/>
<path d="M 189.21,238.4 C 189.21,236.2 190.61,235.3 192.21,235.3 C 194.01,235.3 195.21,236.4 195.21,238.2 C 195.21,240.4 192.21,241 192.21,243 L 192.21,244.4 M 192.21,247.4 L 192.21,248.4" stroke="#ffffff" stroke-width="1" fill="none"/>
<path d="M 199.96,238.4 C 199.96,236.2 201.36,235.3 202.96,235.3 C 204.76,235.3 205.96,236.4 205.96,238.2 C 205.96,240.4 202.96,241 202.96,243 L 202.96,244.4 M 202.96,247.4 L 202.96,248.4" stroke="#ffffff" stroke-width="1" fill="none"/>
<path d="M 210.7,238.4 C 210.7,236.2 212.1,235.3 213.7,235.3 C 215.5,235.3 216.7,236.4 216.7,238.2 C 216.7,240.4 213.7,241 213.7,243 L 213.7,244.4 M 213.7,247.4 L 213.7,248.4" stroke="#ffffff" stroke-width="1" fill="none"/>
<circle cx="378.4" cy="245.9" r="14.9" stroke="#f0a078" stroke-width="1" fill="none"/>
<path d="M375,241 C376,238 379,237 381.5,237.5 C384,238.5 384.5,241 382.5,244 C380,247.5 375,251 372.5,253.5 C375,252.5 377,253.8 379,254.2 C381,254.5 383,253.5 384,252.3" stroke="#ff00ff" stroke-width="1" fill="none"/>
<path d="M 401.6,234.5 C 401.6,232.3 403,231.4 404.6,231.4 C 406.4,231.4 407.6,232.5 407.6,234.3 C 407.6,236.5 404.6,237.1 404.6,239.1 L 404.6,240.5 M 404.6,243.5 L 404.6,244.5" stroke="#ffffff" stroke-width="1" fill="none"/>
<path d="M 411.23,234.5 C 411.23,232.3 412.62,231.4 414.23,231.4 C 416.02,231.4 417.23,232.5 417.23,234.3 C 417.23,236.5 414.23,237.1 414.23,239.1 L 414.23,240.5 M 414.23,243.5 L 414.23,244.5" stroke="#ffffff" stroke-width="1" fill="none"/>
<path d="M 420.85,234.5 C 420.85,232.3 422.25,231.4 423.85,231.4 C 425.65,231.4 426.85,232.5 426.85,234.3 C 426.85,236.5 423.85,237.1 423.85,239.1 L 423.85,240.5 M 423.85,243.5 L 423.85,244.5" stroke="#ffffff" stroke-width="1" fill="none"/>
<path d="M 430.48,234.5 C 430.48,232.3 431.88,231.4 433.48,231.4 C 435.27,231.4 436.48,232.5 436.48,234.3 C 436.48,236.5 433.48,237.1 433.48,239.1 L 433.48,240.5 M 433.48,243.5 L 433.48,244.5" stroke="#ffffff" stroke-width="1" fill="none"/>
<path d="M 440.1,234.5 C 440.1,232.3 441.5,231.4 443.1,231.4 C 444.9,231.4 446.1,232.5 446.1,234.3 C 446.1,236.5 443.1,237.1 443.1,239.1 L 443.1,240.5 M 443.1,243.5 L 443.1,244.5" stroke="#ffffff" stroke-width="1" fill="none"/>
<path d="M 449.73,234.5 C 449.73,232.3 451.12,231.4 452.73,231.4 C 454.52,231.4 455.73,232.5 455.73,234.3 C 455.73,236.5 452.73,237.1 452.73,239.1 L 452.73,240.5 M 452.73,243.5 L 452.73,244.5" stroke="#ffffff" stroke-width="1" fill="none"/>
<path d="M 459.35,234.5 C 459.35,232.3 460.75,231.4 462.35,231.4 C 464.15,231.4 465.35,232.5 465.35,234.3 C 465.35,236.5 462.35,237.1 462.35,239.1 L 462.35,240.5 M 462.35,243.5 L 462.35,244.5" stroke="#ffffff" stroke-width="1" fill="none"/>
<path d="M 468.98,234.5 C 468.98,232.3 470.38,231.4 471.98,231.4 C 473.77,231.4 474.98,232.5 474.98,234.3 C 474.98,236.5 471.98,237.1 471.98,239.1 L 471.98,240.5 M 471.98,243.5 L 471.98,244.5" stroke="#ffffff" stroke-width="1" fill="none"/>
<path d="M 478.6,234.5 C 478.6,232.3 480,231.4 481.6,231.4 C 483.4,231.4 484.6,232.5 484.6,234.3 C 484.6,236.5 481.6,237.1 481.6,239.1 L 481.6,240.5 M 481.6,243.5 L 481.6,244.5" stroke="#ffffff" stroke-width="1" fill="none"/>
<path d="M 402.4,251.4 C 402.4,249.2 403.8,248.3 405.4,248.3 C 407.2,248.3 408.4,249.4 408.4,251.2 C 408.4,253.4 405.4,254 405.4,256 L 405.4,257.4 M 405.4,260.4 L 405.4,261.4" stroke="#ffffff" stroke-width="1" fill="none"/>
<path d="M 411.93,251.4 C 411.93,249.2 413.32,248.3 414.93,248.3 C 416.72,248.3 417.93,249.4 417.93,251.2 C 417.93,253.4 414.93,254 414.93,256 L 414.93,257.4 M 414.93,260.4 L 414.93,261.4" stroke="#ffffff" stroke-width="1" fill="none"/>
<path d="M 421.45,251.4 C 421.45,249.2 422.85,248.3 424.45,248.3 C 426.25,248.3 427.45,249.4 427.45,251.2 C 427.45,253.4 424.45,254 424.45,256 L 424.45,257.4 M 424.45,260.4 L 424.45,261.4" stroke="#ffffff" stroke-width="1" fill="none"/>
<path d="M 430.98,251.4 C 430.98,249.2 432.38,248.3 433.98,248.3 C 435.77,248.3 436.98,249.4 436.98,251.2 C 436.98,253.4 433.98,254 433.98,256 L 433.98,257.4 M 433.98,260.4 L 433.98,261.4" stroke="#ffffff" stroke-width="1" fill="none"/>
<path d="M 440.5,251.4 C 440.5,249.2 441.9,248.3 443.5,248.3 C 445.3,248.3 446.5,249.4 446.5,251.2 C 446.5,253.4 443.5,254 443.5,256 L 443.5,257.4 M 443.5,260.4 L 443.5,261.4" stroke="#ffffff" stroke-width="1" fill="none"/>
<path d="M 450.03,251.4 C 450.03,249.2 451.43,248.3 453.03,248.3 C 454.82,248.3 456.03,249.4 456.03,251.2 C 456.03,253.4 453.03,254 453.03,256 L 453.03,257.4 M 453.03,260.4 L 453.03,261.4" stroke="#ffffff" stroke-width="1" fill="none"/>
<path d="M 459.55,251.4 C 459.55,249.2 460.95,248.3 462.55,248.3 C 464.35,248.3 465.55,249.4 465.55,251.2 C 465.55,253.4 462.55,254 462.55,256 L 462.55,257.4 M 462.55,260.4 L 462.55,261.4" stroke="#ffffff" stroke-width="1" fill="none"/>
<path d="M 469.08,251.4 C 469.08,249.2 470.48,248.3 472.08,248.3 C 473.88,248.3 475.08,249.4 475.08,251.2 C 475.08,253.4 472.08,254 472.08,256 L 472.08,257.4 M 472.08,260.4 L 472.08,261.4" stroke="#ffffff" stroke-width="1" fill="none"/>
<path d="M 478.6,251.4 C 478.6,249.2 480,248.3 481.6,248.3 C 483.4,248.3 484.6,249.4 484.6,251.2 C 484.6,253.4 481.6,254 481.6,256 L 481.6,257.4 M 481.6,260.4 L 481.6,261.4" stroke="#ffffff" stroke-width="1" fill="none"/>
<circle cx="617.5" cy="257.8" r="14.7" stroke="#f0a078" stroke-width="1" fill="none"/>
<path d="M612.5,252 C614,250 622,249.5 623.5,252 C624.5,255 620,257 616.5,257.5 C621,257.5 625,259 624,263 C622.5,266.5 614,266.5 611.5,263.5" stroke="#ff00ff" stroke-width="1" fill="none"/>
<path d="M 640.6,246.6 C 640.6,244.4 642,243.5 643.6,243.5 C 645.4,243.5 646.6,244.6 646.6,246.4 C 646.6,248.6 643.6,249.2 643.6,251.2 L 643.6,252.6 M 643.6,255.6 L 643.6,256.6" stroke="#ffffff" stroke-width="1" fill="none"/>
<path d="M 650.18,246.6 C 650.18,244.4 651.58,243.5 653.18,243.5 C 654.98,243.5 656.18,244.6 656.18,246.4 C 656.18,248.6 653.18,249.2 653.18,251.2 L 653.18,252.6 M 653.18,255.6 L 653.18,256.6" stroke="#ffffff" stroke-width="1" fill="none"/>
<path d="M 659.76,246.6 C 659.76,244.4 661.16,243.5 662.76,243.5 C 664.56,243.5 665.76,244.6 665.76,246.4 C 665.76,248.6 662.76,249.2 662.76,251.2 L 662.76,252.6 M 662.76,255.6 L 662.76,256.6" stroke="#ffffff" stroke-width="1" fill="none"/>
<path d="M 669.35,246.6 C 669.35,244.4 670.75,243.5 672.35,243.5 C 674.15,243.5 675.35,244.6 675.35,246.4 C 675.35,248.6 672.35,249.2 672.35,251.2 L 672.35,252.6 M 672.35,255.6 L 672.35,256.6" stroke="#ffffff" stroke-width="1" fill="none"/>
<path d="M 678.93,246.6 C 678.93,244.4 680.33,243.5 681.93,243.5 C 683.73,243.5 684.93,244.6 684.93,246.4 C 684.93,248.6 681.93,249.2 681.93,251.2 L 681.93,252.6 M 681.93,255.6 L 681.93,256.6" stroke="#ffffff" stroke-width="1" fill="none"/>
<path d="M 688.51,246.6 C 688.51,244.4 689.91,243.5 691.51,243.5 C 693.31,243.5 694.51,244.6 694.51,246.4 C 694.51,248.6 691.51,249.2 691.51,251.2 L 691.51,252.6 M 691.51,255.6 L 691.51,256.6" stroke="#ffffff" stroke-width="1" fill="none"/>
<path d="M 698.09,246.6 C 698.09,244.4 699.49,243.5 701.09,243.5 C 702.89,243.5 704.09,244.6 704.09,246.4 C 704.09,248.6 701.09,249.2 701.09,251.2 L 701.09,252.6 M 701.09,255.6 L 701.09,256.6" stroke="#ffffff" stroke-width="1" fill="none"/>
<path d="M 707.67,246.6 C 707.67,244.4 709.07,243.5 710.67,243.5 C 712.47,243.5 713.67,244.6 713.67,246.4 C 713.67,248.6 710.67,249.2 710.67,251.2 L 710.67,252.6 M 710.67,255.6 L 710.67,256.6" stroke="#ffffff" stroke-width="1" fill="none"/>
<path d="M 717.25,246.6 C 717.25,244.4 718.65,243.5 720.25,243.5 C 722.05,243.5 723.25,244.6 723.25,246.4 C 723.25,248.6 720.25,249.2 720.25,251.2 L 720.25,252.6 M 720.25,255.6 L 720.25,256.6" stroke="#ffffff" stroke-width="1" fill="none"/>
<path d="M 726.84,246.6 C 726.84,244.4 728.24,243.5 729.84,243.5 C 731.64,243.5 732.84,244.6 732.84,246.4 C 732.84,248.6 729.84,249.2 729.84,251.2 L 729.84,252.6 M 729.84,255.6 L 729.84,256.6" stroke="#ffffff" stroke-width="1" fill="none"/>
<path d="M 736.42,246.6 C 736.42,244.4 737.82,243.5 739.42,243.5 C 741.22,243.5 742.42,244.6 742.42,246.4 C 742.42,248.6 739.42,249.2 739.42,251.2 L 739.42,252.6 M 739.42,255.6 L 739.42,256.6" stroke="#ffffff" stroke-width="1" fill="none"/>
<path d="M 746,246.6 C 746,244.4 747.4,243.5 749,243.5 C 750.8,243.5 752,244.6 752,246.4 C 752,248.6 749,249.2 749,251.2 L 749,252.6 M 749,255.6 L 749,256.6" stroke="#ffffff" stroke-width="1" fill="none"/>
<path d="M 641.4,262.5 C 641.4,260.3 642.8,259.4 644.4,259.4 C 646.2,259.4 647.4,260.5 647.4,262.3 C 647.4,264.5 644.4,265.1 644.4,267.1 L 644.4,268.5 M 644.4,271.5 L 644.4,272.5" stroke="#ffffff" stroke-width="1" fill="none"/>
<path d="M 650.91,262.5 C 650.91,260.3 652.31,259.4 653.91,259.4 C 655.71,259.4 656.91,260.5 656.91,262.3 C 656.91,264.5 653.91,265.1 653.91,267.1 L 653.91,268.5 M 653.91,271.5 L 653.91,272.5" stroke="#ffffff" stroke-width="1" fill="none"/>
<path d="M 660.42,262.5 C 660.42,260.3 661.82,259.4 663.42,259.4 C 665.22,259.4 666.42,260.5 666.42,262.3 C 666.42,264.5 663.42,265.1 663.42,267.1 L 663.42,268.5 M 663.42,271.5 L 663.42,272.5" stroke="#ffffff" stroke-width="1" fill="none"/>
<path d="M 669.93,262.5 C 669.93,260.3 671.33,259.4 672.93,259.4 C 674.73,259.4 675.93,260.5 675.93,262.3 C 675.93,264.5 672.93,265.1 672.93,267.1 L 672.93,268.5 M 672.93,271.5 L 672.93,272.5" stroke="#ffffff" stroke-width="1" fill="none"/>
<path d="M 679.44,262.5 C 679.44,260.3 680.84,259.4 682.44,259.4 C 684.24,259.4 685.44,260.5 685.44,262.3 C 685.44,264.5 682.44,265.1 682.44,267.1 L 682.44,268.5 M 682.44,271.5 L 682.44,272.5" stroke="#ffffff" stroke-width="1" fill="none"/>
<path d="M 688.95,262.5 C 688.95,260.3 690.35,259.4 691.95,259.4 C 693.75,259.4 694.95,260.5 694.95,262.3 C 694.95,264.5 691.95,265.1 691.95,267.1 L 691.95,268.5 M 691.95,271.5 L 691.95,272.5" stroke="#ffffff" stroke-width="1" fill="none"/>
<path d="M 698.45,262.5 C 698.45,260.3 699.85,259.4 701.45,259.4 C 703.25,259.4 704.45,260.5 704.45,262.3 C 704.45,264.5 701.45,265.1 701.45,267.1 L 701.45,268.5 M 701.45,271.5 L 701.45,272.5" stroke="#ffffff" stroke-width="1" fill="none"/>
<path d="M 707.96,262.5 C 707.96,260.3 709.36,259.4 710.96,259.4 C 712.76,259.4 713.96,260.5 713.96,262.3 C 713.96,264.5 710.96,265.1 710.96,267.1 L 710.96,268.5 M 710.96,271.5 L 710.96,272.5" stroke="#ffffff" stroke-width="1" fill="none"/>
<path d="M 717.47,262.5 C 717.47,260.3 718.87,259.4 720.47,259.4 C 722.27,259.4 723.47,260.5 723.47,262.3 C 723.47,264.5 720.47,265.1 720.47,267.1 L 720.47,268.5 M 720.47,271.5 L 720.47,272.5" stroke="#ffffff" stroke-width="1" fill="none"/>
<path d="M 726.98,262.5 C 726.98,260.3 728.38,259.4 729.98,259.4 C 731.78,259.4 732.98,260.5 732.98,262.3 C 732.98,264.5 729.98,265.1 729.98,267.1 L 729.98,268.5 M 729.98,271.5 L 729.98,272.5" stroke="#ffffff" stroke-width="1" fill="none"/>
<path d="M 736.49,262.5 C 736.49,260.3 737.89,259.4 739.49,259.4 C 741.29,259.4 742.49,260.5 742.49,262.3 C 742.49,264.5 739.49,265.1 739.49,267.1 L 739.49,268.5 M 739.49,271.5 L 739.49,272.5" stroke="#ffffff" stroke-width="1" fill="none"/>
<path d="M 746,262.5 C 746,260.3 747.4,259.4 749,259.4 C 750.8,259.4 752,260.5 752,262.3 C 752,264.5 749,265.1 749,267.1 L 749,268.5 M 749,271.5 L 749,272.5" stroke="#ffffff" stroke-width="1" fill="none"/>
<polyline points="141.2,333.5 184,333.5" stroke="#ffffff" stroke-width="1"/>
<polyline points="184,333.5 185.5,330.5 186.5,328.5 186.5,338.5 188,334.5 189,333.5" stroke="#ffffff" stroke-width="1"/>
<polyline points="189.5,333.5 218.6,333.5" stroke="#ffffff" stroke-width="1"/>
<polyline points="140.6,482.5 184.5,482.5" stroke="#ffffff" stroke-width="1"/>
<polyline points="184.4,482.5 185.9,479.5 186.9,477.5 186.9,487.5 188.4,483.5 189.4,482.5" stroke="#ffffff" stroke-width="1"/>
<polyline points="189.9,482.5 219.3,482.5" stroke="#ffffff" stroke-width="1"/>
<polyline points="146.5,333.5 146.5,482.5" stroke="#ffff00" stroke-width="1"/>
<polyline points="158.5,333.5 158.5,482.5" stroke="#ffff00" stroke-width="1"/>
<polyline points="215.5,333.5 215.5,482.5" stroke="#ffff00" stroke-width="1"/>
<polyline points="152.5,336 152.5,481" stroke="#00ff00" stroke-width="1" stroke-dasharray="7,4"/>
<polyline points="163.5,336 163.5,481" stroke="#00ff00" stroke-width="1" stroke-dasharray="7,4"/>
<polyline points="210.5,336 210.5,481" stroke="#00ff00" stroke-width="1" stroke-dasharray="7,4"/>
<polyline points="163.5,371.5 210.5,371.5" stroke="#00ff00" stroke-width="1" stroke-dasharray="7,4"/>
<polyline points="163.5,374.5 210.5,374.5" stroke="#00ff00" stroke-width="1" stroke-dasharray="7,4"/>
<polyline points="163.5,427.5 210.5,427.5" stroke="#00ff00" stroke-width="1" stroke-dasharray="7,4"/>
<polyline points="163.5,430.5 210.5,430.5" stroke="#00ff00" stroke-width="1" stroke-dasharray="7,4"/>
<rect x="177.5" y="379.5" width="2" height="43.5" stroke="#ffff00" stroke-width="1"/>
<polyline points="94,372.5 155.5,372.5 155.5,374.5 94,374.5" stroke="#ffff00" stroke-width="1"/>
<polyline points="93.5,428.5 155.5,428.5 155.5,431 93.5,431" stroke="#ffff00" stroke-width="1"/>
<polyline points="124,375 124,380.5" stroke="#ffff00" stroke-width="2"/>
<polyline points="124,422 124,428.5" stroke="#ffff00" stroke-width="2"/>
<rect x="105.5" y="380.5" width="36" height="42" stroke="#ffff00" stroke-width="1"/>
<polyline points="109,383.8 112.2,383.8" stroke="#ff00ff" stroke-width="1"/>
<polyline points="110.6,382.2 110.6,385.4" stroke="#ff00ff" stroke-width="1"/>
<polyline points="109,392.7 112.2,392.7" stroke="#ff00ff" stroke-width="1"/>
<polyline points="110.6,391.1 110.6,394.3" stroke="#ff00ff" stroke-width="1"/>
<polyline points="109,400.9 112.2,400.9" stroke="#ff00ff" stroke-width="1"/>
<polyline points="110.6,399.3 110.6,402.5" stroke="#ff00ff" stroke-width="1"/>
<polyline points="109,409.1 112.2,409.1" stroke="#ff00ff" stroke-width="1"/>
<polyline points="110.6,407.5 110.6,410.7" stroke="#ff00ff" stroke-width="1"/>
<polyline points="109,417.6 112.2,417.6" stroke="#ff00ff" stroke-width="1"/>
<polyline points="110.6,416 110.6,419.2" stroke="#ff00ff" stroke-width="1"/>
<polyline points="117.3,383.8 120.5,383.8" stroke="#ff00ff" stroke-width="1"/>
<polyline points="118.9,382.2 118.9,385.4" stroke="#ff00ff" stroke-width="1"/>
<polyline points="117.3,392.7 120.5,392.7" stroke="#ff00ff" stroke-width="1"/>
<polyline points="118.9,391.1 118.9,394.3" stroke="#ff00ff" stroke-width="1"/>
<polyline points="117.3,400.9 120.5,400.9" stroke="#ff00ff" stroke-width="1"/>
<polyline points="118.9,399.3 118.9,402.5" stroke="#ff00ff" stroke-width="1"/>
<polyline points="117.3,409.1 120.5,409.1" stroke="#ff00ff" stroke-width="1"/>
<polyline points="118.9,407.5 118.9,410.7" stroke="#ff00ff" stroke-width="1"/>
<polyline points="117.3,417.6 120.5,417.6" stroke="#ff00ff" stroke-width="1"/>
<polyline points="118.9,416 118.9,419.2" stroke="#ff00ff" stroke-width="1"/>
<polyline points="127.1,383.8 130.3,383.8" stroke="#ff00ff" stroke-width="1"/>
<polyline points="128.7,382.2 128.7,385.4" stroke="#ff00ff" stroke-width="1"/>
<polyline points="127.1,392.7 130.3,392.7" stroke="#ff00ff" stroke-width="1"/>
<polyline points="128.7,391.1 128.7,394.3" stroke="#ff00ff" stroke-width="1"/>
<polyline points="127.1,400.9 130.3,400.9" stroke="#ff00ff" stroke-width="1"/>
<polyline points="128.7,399.3 128.7,402.5" stroke="#ff00ff" stroke-width="1"/>
<polyline points="127.1,409.1 130.3,409.1" stroke="#ff00ff" stroke-width="1"/>
<polyline points="128.7,407.5 128.7,410.7" stroke="#ff00ff" stroke-width="1"/>
<polyline points="127.1,417.6 130.3,417.6" stroke="#ff00ff" stroke-width="1"/>
<polyline points="128.7,416 128.7,419.2" stroke="#ff00ff" stroke-width="1"/>
<polyline points="135.7,383.8 138.9,383.8" stroke="#ff00ff" stroke-width="1"/>
<polyline points="137.3,382.2 137.3,385.4" stroke="#ff00ff" stroke-width="1"/>
<polyline points="135.7,392.7 138.9,392.7" stroke="#ff00ff" stroke-width="1"/>
<polyline points="137.3,391.1 137.3,394.3" stroke="#ff00ff" stroke-width="1"/>
<polyline points="135.7,400.9 138.9,400.9" stroke="#ff00ff" stroke-width="1"/>
<polyline points="137.3,399.3 137.3,402.5" stroke="#ff00ff" stroke-width="1"/>
<polyline points="135.7,409.1 138.9,409.1" stroke="#ff00ff" stroke-width="1"/>
<polyline points="137.3,407.5 137.3,410.7" stroke="#ff00ff" stroke-width="1"/>
<polyline points="135.7,417.6 138.9,417.6" stroke="#ff00ff" stroke-width="1"/>
<polyline points="137.3,416 137.3,419.2" stroke="#ff00ff" stroke-width="1"/>
<polyline points="124,381 124,422" stroke="#00ff00" stroke-width="2"/>
<polyline points="93.5,369.6 93.5,395" stroke="#ffffff" stroke-width="1"/>
<polyline points="93.5,394.5 93.5,396 86.5,396.5 100.5,396.5 93.5,398 93.5,400" stroke="#ffffff" stroke-width="1"/>
<polyline points="92,395.5 95,397.5" stroke="#ffffff" stroke-width="1"/>
<polyline points="93.5,400 93.5,429" stroke="#ffffff" stroke-width="1"/>
<polyline points="215.5,372.5 259.5,372.5 259.5,375.5 215.5,375.5" stroke="#ffff00" stroke-width="1"/>
<polyline points="215.5,428 260.5,428 260.5,431 215.5,431" stroke="#ffff00" stroke-width="1"/>
<rect x="216.5" y="380.5" width="19" height="42" stroke="#ffff00" stroke-width="1"/>
<polyline points="220.6,383.8 223.8,383.8" stroke="#ff00ff" stroke-width="1"/>
<polyline points="222.2,382.2 222.2,385.4" stroke="#ff00ff" stroke-width="1"/>
<polyline points="220.6,392.2 223.8,392.2" stroke="#ff00ff" stroke-width="1"/>
<polyline points="222.2,390.6 222.2,393.8" stroke="#ff00ff" stroke-width="1"/>
<polyline points="220.6,401.1 223.8,401.1" stroke="#ff00ff" stroke-width="1"/>
<polyline points="222.2,399.5 222.2,402.7" stroke="#ff00ff" stroke-width="1"/>
<polyline points="220.6,408.9 223.8,408.9" stroke="#ff00ff" stroke-width="1"/>
<polyline points="222.2,407.3 222.2,410.5" stroke="#ff00ff" stroke-width="1"/>
<polyline points="220.6,417.3 223.8,417.3" stroke="#ff00ff" stroke-width="1"/>
<polyline points="222.2,415.7 222.2,418.9" stroke="#ff00ff" stroke-width="1"/>
<polyline points="228.6,383.8 231.8,383.8" stroke="#ff00ff" stroke-width="1"/>
<polyline points="230.2,382.2 230.2,385.4" stroke="#ff00ff" stroke-width="1"/>
<polyline points="228.6,392.2 231.8,392.2" stroke="#ff00ff" stroke-width="1"/>
<polyline points="230.2,390.6 230.2,393.8" stroke="#ff00ff" stroke-width="1"/>
<polyline points="228.6,401.1 231.8,401.1" stroke="#ff00ff" stroke-width="1"/>
<polyline points="230.2,399.5 230.2,402.7" stroke="#ff00ff" stroke-width="1"/>
<polyline points="228.6,408.9 231.8,408.9" stroke="#ff00ff" stroke-width="1"/>
<polyline points="230.2,407.3 230.2,410.5" stroke="#ff00ff" stroke-width="1"/>
<polyline points="228.6,417.3 231.8,417.3" stroke="#ff00ff" stroke-width="1"/>
<polyline points="230.2,415.7 230.2,418.9" stroke="#ff00ff" stroke-width="1"/>
<polyline points="218.5,382 218.5,421" stroke="#00ff00" stroke-width="1" stroke-dasharray="4,3"/>
<polyline points="204.4,371.5 210.5,371.5" stroke="#00ff00" stroke-width="1"/>
<polyline points="204.4,375 210.5,375" stroke="#00ff00" stroke-width="1"/>
<polyline points="208.5,371.5 208.5,375" stroke="#00ff00" stroke-width="1"/>
<polyline points="260.5,369.6 260.5,395" stroke="#ffffff" stroke-width="1"/>
<polyline points="260.5,394.5 260.5,396 253.5,396.5 267.5,396.5 260.5,398 260.5,400" stroke="#ffffff" stroke-width="1"/>
<polyline points="259,395.5 262,397.5" stroke="#ffffff" stroke-width="1"/>
<polyline points="260.5,400 260.5,434.7" stroke="#ffffff" stroke-width="1"/>
<circle cx="89.9" cy="332.8" r="7.4" stroke="#ffffff" stroke-width="1" fill="none"/>
<path d="M 86.7,330.89 L 87.75,329.5 L 87.75,336.9" stroke="#00ffff" stroke-width="1" fill="none"/>
<path d="M 90.7,330.89 L 91.75,329.5 L 93.15,329.5 L 94.2,330.89 L 94.2,332.27 L 90.7,336.9 L 94.2,336.9" stroke="#00ffff" stroke-width="1" fill="none"/>
<polyline points="98,325.5 104.7,333.1 98,340.5" stroke="#ffffff" stroke-width="1"/>
<polyline points="104.7,333.5 127.8,333.5" stroke="#ffffff" stroke-width="1"/>
<polyline points="113.2,326 113.2,341" stroke="#ffffff" stroke-width="1"/>
<polyline points="120.7,326 113.2,333.5 120.7,341" stroke="#ffffff" stroke-width="1"/>
<polyline points="127.8,333.5 143.8,371.4" stroke="#ffffff" stroke-width="1"/>
<polyline points="141,367 144,372" stroke="#00ffff" stroke-width="1"/>
<path d="M 83.79,350.45 C 83.79,348.65 84.94,347.91 86.25,347.91 C 87.73,347.91 88.71,348.81 88.71,350.29 C 88.71,352.09 86.25,352.58 86.25,354.22 L 86.25,355.37 M 86.25,357.83 L 86.25,358.65" stroke="#ffffff" stroke-width="1" fill="none"/>
<path d="M 91.45,350.45 C 91.45,348.65 92.6,347.91 93.91,347.91 C 95.39,347.91 96.37,348.81 96.37,350.29 C 96.37,352.09 93.91,352.58 93.91,354.22 L 93.91,355.37 M 93.91,357.83 L 93.91,358.65" stroke="#ffffff" stroke-width="1" fill="none"/>
<path d="M 106.34,349.6 L 102.64,349.6 L 102.46,353.1 L 105.28,353.1 L 106.6,354.6 L 106.6,356.1 L 105.28,357.6 L 103.52,357.6 L 102.2,356.4" stroke="#00ffff" stroke-width="1" fill="none"/>
<path d="M 109.52,349.6 L 111.28,349.6 L 112.34,350.8 L 112.34,352.2 L 111.28,353.4 L 109.52,353.4 L 108.46,352.2 L 108.46,350.8 Z M 109.52,353.4 L 108.2,354.9 L 108.2,356.1 L 109.52,357.6 L 111.28,357.6 L 112.6,356.1 L 112.6,354.9 L 111.28,353.4" stroke="#00ffff" stroke-width="1" fill="none"/>
<path d="M 115.89,350.45 C 115.89,348.65 117.04,347.91 118.35,347.91 C 119.83,347.91 120.81,348.81 120.81,350.29 C 120.81,352.09 118.35,352.58 118.35,354.22 L 118.35,355.37 M 118.35,357.83 L 118.35,358.65" stroke="#ffffff" stroke-width="1" fill="none"/>
<path d="M 123.45,350.45 C 123.45,348.65 124.6,347.91 125.91,347.91 C 127.39,347.91 128.37,348.81 128.37,350.29 C 128.37,352.09 125.91,352.58 125.91,354.22 L 125.91,355.37 M 125.91,357.83 L 125.91,358.65" stroke="#ffffff" stroke-width="1" fill="none"/>
<polyline points="83.3,360.5 131.4,360.5 136.7,383" stroke="#ffffff" stroke-width="1"/>
<path d="M 90.1,436 L 88.5,445 M 89,441.5 L 90.7,440 L 92.5,440 L 92.9,441 L 92.1,445 M 95.5,442.5 L 95.5,447 M 94.7,443.3 L 95.5,442.5" stroke="#00ffff" stroke-width="1" fill="none"/>
<polyline points="86.2,447.5 116.3,447.5" stroke="#ffffff" stroke-width="1"/>
<polyline points="102.4,438 102.4,457" stroke="#ffffff" stroke-width="1"/>
<polyline points="102.4,438 113,447.5 102.4,457" stroke="#ffffff" stroke-width="1"/>
<polyline points="116.3,447.5 146.4,401.2" stroke="#ffffff" stroke-width="1"/>
<polyline points="143,406 146.4,401.2" stroke="#00ffff" stroke-width="1"/>
<circle cx="85.7" cy="469.4" r="7.4" stroke="#ffffff" stroke-width="1" fill="none"/>
<path d="M 82.5,467.49 L 83.55,466.1 L 83.55,473.5" stroke="#00ffff" stroke-width="1" fill="none"/>
<path d="M 86.5,467.49 L 87.55,466.1 L 88.95,466.1 L 90,467.49 L 90,468.87 L 86.5,473.5 L 90,473.5" stroke="#00ffff" stroke-width="1" fill="none"/>
<polyline points="93.2,462.5 100.1,469.4 93.2,477.5" stroke="#ffffff" stroke-width="1"/>
<polyline points="100.1,469.5 123.2,469.5" stroke="#ffffff" stroke-width="1"/>
<polyline points="108.2,462 108.2,477" stroke="#ffffff" stroke-width="1"/>
<polyline points="116.2,462 108.2,469.5 116.2,477" stroke="#ffffff" stroke-width="1"/>
<polyline points="123.2,469.5 146.4,430.1" stroke="#ffffff" stroke-width="1"/>
<polyline points="143,435 146.4,430.1" stroke="#00ffff" stroke-width="1"/>
<polygon points="233.3,317.5 244.6,324.7 233.3,324.7" fill="#00ff00" stroke="none" stroke-width="1"/>
<polyline points="233.3,318 233.3,325.2" stroke="#00ffff" stroke-width="1"/>
<polyline points="233.3,324.2 233.3,333.5" stroke="#ffffff" stroke-width="1"/>
<polyline points="233.3,333.5 258.7,333.5" stroke="#ffffff" stroke-width="1"/>
<rect x="246.5" y="333.5" width="8" height="2" stroke="#ffffff" stroke-width="1"/>
<polyline points="246.6,325 246.6,333.5" stroke="#ffffff" stroke-width="1"/>
<polyline points="246.6,333.5 254.3,325.7" stroke="#ffffff" stroke-width="1"/>
<polyline points="265,325.7 258.7,333.1 265,340.6" stroke="#ffffff" stroke-width="1"/>
<circle cx="272" cy="332.8" r="7.1" stroke="#ffffff" stroke-width="1" fill="none"/>
<path d="M 270.76,336.9 L 270.76,329.5 L 268.1,334.59 L 271.6,334.59" stroke="#00ffff" stroke-width="1" fill="none"/>
<path d="M 273.01,329.5 L 276.09,329.5 L 274.2,332.74 L 275.25,332.74 L 276.3,334.12 L 276.3,335.51 L 275.25,336.9 L 273.85,336.9 L 272.8,335.79" stroke="#00ffff" stroke-width="1" fill="none"/>
<polyline points="233.3,333.1 217.4,373.2" stroke="#ffffff" stroke-width="1"/>
<path d="M 240.49,347.65 C 240.49,345.85 241.64,345.11 242.95,345.11 C 244.43,345.11 245.41,346.01 245.41,347.49 C 245.41,349.29 242.95,349.78 242.95,351.42 L 242.95,352.57 M 242.95,355.03 L 242.95,355.85" stroke="#ffffff" stroke-width="1" fill="none"/>
<path d="M 248.25,347.65 C 248.25,345.85 249.4,345.11 250.71,345.11 C 252.19,345.11 253.17,346.01 253.17,347.49 C 253.17,349.29 250.71,349.78 250.71,351.42 L 250.71,352.57 M 250.71,355.03 L 250.71,355.85" stroke="#ffffff" stroke-width="1" fill="none"/>
<path d="M 262.62,346.5 L 258.76,346.5 L 258.58,350.26 L 261.52,350.26 L 262.9,351.88 L 262.9,353.49 L 261.52,355.1 L 259.68,355.1 L 258.3,353.81" stroke="#00ffff" stroke-width="1" fill="none"/>
<path d="M 266.08,346.5 L 267.92,346.5 L 269.02,347.79 L 269.02,349.3 L 267.92,350.58 L 266.08,350.58 L 264.98,349.3 L 264.98,347.79 Z M 266.08,350.58 L 264.7,352.2 L 264.7,353.49 L 266.08,355.1 L 267.92,355.1 L 269.3,353.49 L 269.3,352.2 L 267.92,350.58" stroke="#00ffff" stroke-width="1" fill="none"/>
<path d="M 273.09,347.65 C 273.09,345.85 274.24,345.11 275.55,345.11 C 277.03,345.11 278.01,346.01 278.01,347.49 C 278.01,349.29 275.55,349.78 275.55,351.42 L 275.55,352.57 M 275.55,355.03 L 275.55,355.85" stroke="#ffffff" stroke-width="1" fill="none"/>
<path d="M 281.05,347.65 C 281.05,345.85 282.2,345.11 283.51,345.11 C 284.99,345.11 285.97,346.01 285.97,347.49 C 285.97,349.29 283.51,349.78 283.51,351.42 L 283.51,352.57 M 283.51,355.03 L 283.51,355.85" stroke="#ffffff" stroke-width="1" fill="none"/>
<polyline points="240.9,358.5 286.3,358.5" stroke="#ffffff" stroke-width="1"/>
<polyline points="240.9,358.5 230.2,383" stroke="#ffffff" stroke-width="1"/>
<polyline points="216,405.5 248.9,405.5 256,452.5 289.9,452.5" stroke="#ffffff" stroke-width="1"/>
<path d="M 263.1,441 L 261.5,450 M 262,446.5 L 263.7,445 L 265.5,445 L 265.9,446 L 265.1,450 M 268.5,447.5 L 268.5,452 M 267.7,448.3 L 268.5,447.5" stroke="#00ffff" stroke-width="1" fill="none"/>
<polyline points="275.6,441.8 275.6,461.4" stroke="#ffffff" stroke-width="1"/>
<polyline points="275.6,441.8 285.4,452.5 275.6,461.4" stroke="#ffffff" stroke-width="1"/>
<polyline points="229.4,413.3 242.7,477.4" stroke="#ffffff" stroke-width="1"/>
<polyline points="229.4,413.3 220,425" stroke="#ffffff" stroke-width="1"/>
<polyline points="218,427 221,423" stroke="#00ffff" stroke-width="1"/>
<polygon points="243,462.7 254.5,470.7 243,470.7" fill="#00ff00" stroke="none" stroke-width="1"/>
<polyline points="243,463.2 243,471.2" stroke="#00ffff" stroke-width="1"/>
<polyline points="243,470.2 243,478" stroke="#ffffff" stroke-width="1"/>
<polyline points="243,478.5 266.7,478.5" stroke="#ffffff" stroke-width="1"/>
<rect x="254.5" y="478.5" width="7.5" height="3" stroke="#ffffff" stroke-width="1"/>
<polyline points="258.7,470.5 258.7,478.5" stroke="#ffffff" stroke-width="1"/>
<polyline points="258.7,478.5 266.7,470.5" stroke="#ffffff" stroke-width="1"/>
<polyline points="273.3,470.5 266.7,478.3 273.3,486.3" stroke="#ffffff" stroke-width="1"/>
<circle cx="281" cy="478.3" r="7.4" stroke="#ffffff" stroke-width="1" fill="none"/>
<path d="M 279.76,482.4 L 279.76,475 L 277.1,480.09 L 280.6,480.09" stroke="#00ffff" stroke-width="1" fill="none"/>
<path d="M 282.01,475 L 285.09,475 L 283.2,478.24 L 284.25,478.24 L 285.3,479.62 L 285.3,481.01 L 284.25,482.4 L 282.85,482.4 L 281.8,481.29" stroke="#00ffff" stroke-width="1" fill="none"/>
<polyline points="163.6,504 160.1,516.7" stroke="#00ffff" stroke-width="1.8"/>
<polyline points="160.1,507.2 163.6,506" stroke="#00ffff" stroke-width="1"/>
<polyline points="169.9,511.5 178.8,511.5" stroke="#00ffff" stroke-width="1"/>
<polyline points="190.7,505.2 187.5,516.7" stroke="#00ffff" stroke-width="1.8"/>
<polyline points="187.3,507.5 190.7,506.3" stroke="#00ffff" stroke-width="1"/>
<polyline points="156.8,521.5 192,521.5" stroke="#ff0000" stroke-width="1"/>
<polyline points="623,355.5 663,355.5" stroke="#ffffff" stroke-width="1"/>
<polyline points="663.2,355.5 664.7,352.5 665.7,350.5 665.7,360.5 667.2,356.5 668.2,355.5" stroke="#ffffff" stroke-width="1"/>
<polyline points="668.7,355.5 698.6,355.5" stroke="#ffffff" stroke-width="1"/>
<polyline points="623.6,504.5 663,504.5" stroke="#ffffff" stroke-width="1"/>
<polyline points="663.2,504.5 664.7,501.5 665.7,499.5 665.7,509.5 667.2,505.5 668.2,504.5" stroke="#ffffff" stroke-width="1"/>
<polyline points="668.7,504.5 699.3,504.5" stroke="#ffffff" stroke-width="1"/>
<polyline points="628.5,355.5 628.5,504.5" stroke="#ffff00" stroke-width="1"/>
<polyline points="638.5,355.5 638.5,504.5" stroke="#ffff00" stroke-width="1"/>
<polyline points="643.5,355.5 643.5,504.5" stroke="#ffff00" stroke-width="1"/>
<polyline points="690.5,355.5 690.5,504.5" stroke="#ffff00" stroke-width="1"/>
<polyline points="695.5,355.5 695.5,504.5" stroke="#ffff00" stroke-width="1"/>
<polyline points="633.5,357 633.5,503" stroke="#00ff00" stroke-width="1" stroke-dasharray="7,4"/>
<polyline points="643.5,385.5 690.5,385.5" stroke="#ffff00" stroke-width="1"/>
<polyline points="643.5,461.5 690.5,461.5" stroke="#ffff00" stroke-width="1"/>
<polyline points="648,394.5 690,394.5" stroke="#00ff00" stroke-width="1" stroke-dasharray="7,4"/>
<polyline points="648,397.5 690,397.5" stroke="#00ff00" stroke-width="1" stroke-dasharray="7,4"/>
<polyline points="648,450.5 690,450.5" stroke="#00ff00" stroke-width="1" stroke-dasharray="7,4"/>
<polyline points="648,453.5 690,453.5" stroke="#00ff00" stroke-width="1" stroke-dasharray="7,4"/>
<rect x="658.5" y="402.5" width="3" height="43" rx="1.5" stroke="#ffff00" stroke-width="1"/>
<polyline points="660,406 660,442" stroke="#00ff00" stroke-width="1" stroke-dasharray="2,5"/>
<polyline points="574.9,394.5 635.5,394.5 635.5,397.5 574.9,397.5" stroke="#ffff00" stroke-width="1"/>
<polyline points="574.3,450.5 635.5,450.5 635.5,453.5 574.3,453.5" stroke="#ffff00" stroke-width="1"/>
<polyline points="603.5,397.5 603.5,403" stroke="#ffff00" stroke-width="1"/>
<polyline points="605.5,397.5 605.5,403" stroke="#ffff00" stroke-width="1"/>
<polyline points="603.5,444.5 603.5,450.5" stroke="#ffff00" stroke-width="1"/>
<polyline points="605.5,444.5 605.5,450.5" stroke="#ffff00" stroke-width="1"/>
<rect x="586.5" y="403.5" width="36" height="41" stroke="#ffff00" stroke-width="1"/>
<polyline points="590.2,407.4 593.4,407.4" stroke="#ff00ff" stroke-width="1"/>
<polyline points="591.8,405.8 591.8,409" stroke="#ff00ff" stroke-width="1"/>
<polyline points="590.2,415.4 593.4,415.4" stroke="#ff00ff" stroke-width="1"/>
<polyline points="591.8,413.8 591.8,417" stroke="#ff00ff" stroke-width="1"/>
<polyline points="590.2,423.4 593.4,423.4" stroke="#ff00ff" stroke-width="1"/>
<polyline points="591.8,421.8 591.8,425" stroke="#ff00ff" stroke-width="1"/>
<polyline points="590.2,432 593.4,432" stroke="#ff00ff" stroke-width="1"/>
<polyline points="591.8,430.4 591.8,433.6" stroke="#ff00ff" stroke-width="1"/>
<polyline points="590.2,440.4 593.4,440.4" stroke="#ff00ff" stroke-width="1"/>
<polyline points="591.8,438.8 591.8,442" stroke="#ff00ff" stroke-width="1"/>
<polyline points="598.2,407.4 601.4,407.4" stroke="#ff00ff" stroke-width="1"/>
<polyline points="599.8,405.8 599.8,409" stroke="#ff00ff" stroke-width="1"/>
<polyline points="598.2,415.4 601.4,415.4" stroke="#ff00ff" stroke-width="1"/>
<polyline points="599.8,413.8 599.8,417" stroke="#ff00ff" stroke-width="1"/>
<polyline points="598.2,423.4 601.4,423.4" stroke="#ff00ff" stroke-width="1"/>
<polyline points="599.8,421.8 599.8,425" stroke="#ff00ff" stroke-width="1"/>
<polyline points="598.2,432 601.4,432" stroke="#ff00ff" stroke-width="1"/>
<polyline points="599.8,430.4 599.8,433.6" stroke="#ff00ff" stroke-width="1"/>
<polyline points="598.2,440.4 601.4,440.4" stroke="#ff00ff" stroke-width="1"/>
<polyline points="599.8,438.8 599.8,442" stroke="#ff00ff" stroke-width="1"/>
<polyline points="608.9,407.4 612.1,407.4" stroke="#ff00ff" stroke-width="1"/>
<polyline points="610.5,405.8 610.5,409" stroke="#ff00ff" stroke-width="1"/>
<polyline points="608.9,415.4 612.1,415.4" stroke="#ff00ff" stroke-width="1"/>
<polyline points="610.5,413.8 610.5,417" stroke="#ff00ff" stroke-width="1"/>
<polyline points="608.9,423.4 612.1,423.4" stroke="#ff00ff" stroke-width="1"/>
<polyline points="610.5,421.8 610.5,425" stroke="#ff00ff" stroke-width="1"/>
<polyline points="608.9,432 612.1,432" stroke="#ff00ff" stroke-width="1"/>
<polyline points="610.5,430.4 610.5,433.6" stroke="#ff00ff" stroke-width="1"/>
<polyline points="608.9,440.4 612.1,440.4" stroke="#ff00ff" stroke-width="1"/>
<polyline points="610.5,438.8 610.5,442" stroke="#ff00ff" stroke-width="1"/>
<polyline points="616.9,407.4 620.1,407.4" stroke="#ff00ff" stroke-width="1"/>
<polyline points="618.5,405.8 618.5,409" stroke="#ff00ff" stroke-width="1"/>
<polyline points="616.9,415.4 620.1,415.4" stroke="#ff00ff" stroke-width="1"/>
<polyline points="618.5,413.8 618.5,417" stroke="#ff00ff" stroke-width="1"/>
<polyline points="616.9,423.4 620.1,423.4" stroke="#ff00ff" stroke-width="1"/>
<polyline points="618.5,421.8 618.5,425" stroke="#ff00ff" stroke-width="1"/>
<polyline points="616.9,432 620.1,432" stroke="#ff00ff" stroke-width="1"/>
<polyline points="618.5,430.4 618.5,433.6" stroke="#ff00ff" stroke-width="1"/>
<polyline points="616.9,440.4 620.1,440.4" stroke="#ff00ff" stroke-width="1"/>
<polyline points="618.5,438.8 618.5,442" stroke="#ff00ff" stroke-width="1"/>
<polyline points="603.5,404 603.5,444" stroke="#00ff00" stroke-width="1" stroke-dasharray="8,5"/>
<polyline points="605.5,410 605.5,444" stroke="#00ff00" stroke-width="1" stroke-dasharray="8,5"/>
<polyline points="574.5,391.4 574.5,418" stroke="#ffffff" stroke-width="1"/>
<polyline points="574.5,417.5 574.5,419 567.5,419.5 581.5,419.5 574.5,421 574.5,423" stroke="#ffffff" stroke-width="1"/>
<polyline points="573,418.5 576,420.5" stroke="#ffffff" stroke-width="1"/>
<polyline points="574.5,423 574.5,456" stroke="#ffffff" stroke-width="1"/>
<circle cx="571.7" cy="347.4" r="7.5" stroke="#ffffff" stroke-width="1" fill="none"/>
<path d="M 568.5,345.49 L 569.55,344.1 L 569.55,351.5" stroke="#00ffff" stroke-width="1" fill="none"/>
<path d="M 572.5,345.49 L 573.55,344.1 L 574.95,344.1 L 576,345.49 L 576,346.87 L 572.5,351.5 L 576,351.5" stroke="#00ffff" stroke-width="1" fill="none"/>
<polyline points="579.3,340 586.5,347.4 579.3,355" stroke="#ffffff" stroke-width="1"/>
<polyline points="586.5,347.5 608.7,347.5" stroke="#ffffff" stroke-width="1"/>
<polyline points="595.4,339.3 595.4,355.7" stroke="#ffffff" stroke-width="1"/>
<polyline points="602.4,339.3 595.4,347.5 602.4,355.7" stroke="#ffffff" stroke-width="1"/>
<polyline points="608.7,347.5 627.4,395" stroke="#ffffff" stroke-width="1"/>
<polyline points="625,390 627.4,395" stroke="#00ffff" stroke-width="1"/>
<path d="M 560.29,370.35 C 560.29,368.55 561.44,367.81 562.75,367.81 C 564.23,367.81 565.21,368.71 565.21,370.19 C 565.21,371.99 562.75,372.48 562.75,374.12 L 562.75,375.27 M 562.75,377.73 L 562.75,378.55" stroke="#ffffff" stroke-width="1" fill="none"/>
<path d="M 568.25,370.35 C 568.25,368.55 569.4,367.81 570.71,367.81 C 572.19,367.81 573.17,368.71 573.17,370.19 C 573.17,371.99 570.71,372.48 570.71,374.12 L 570.71,375.27 M 570.71,377.73 L 570.71,378.55" stroke="#ffffff" stroke-width="1" fill="none"/>
<path d="M 582.94,369.2 L 579.24,369.2 L 579.06,372.79 L 581.88,372.79 L 583.2,374.32 L 583.2,375.86 L 581.88,377.4 L 580.12,377.4 L 578.8,376.17" stroke="#00ffff" stroke-width="1" fill="none"/>
<path d="M 586.12,369.2 L 587.88,369.2 L 588.94,370.43 L 588.94,371.87 L 587.88,373.09 L 586.12,373.09 L 585.06,371.87 L 585.06,370.43 Z M 586.12,373.09 L 584.8,374.63 L 584.8,375.86 L 586.12,377.4 L 587.88,377.4 L 589.2,375.86 L 589.2,374.63 L 587.88,373.09" stroke="#00ffff" stroke-width="1" fill="none"/>
<path d="M 591.99,370.35 C 591.99,368.55 593.14,367.81 594.45,367.81 C 595.93,367.81 596.91,368.71 596.91,370.19 C 596.91,371.99 594.45,372.48 594.45,374.12 L 594.45,375.27 M 594.45,377.73 L 594.45,378.55" stroke="#ffffff" stroke-width="1" fill="none"/>
<path d="M 600.75,370.35 C 600.75,368.55 601.9,367.81 603.21,367.81 C 604.69,367.81 605.67,368.71 605.67,370.19 C 605.67,371.99 603.21,372.48 603.21,374.12 L 603.21,375.27 M 603.21,377.73 L 603.21,378.55" stroke="#ffffff" stroke-width="1" fill="none"/>
<polyline points="560.3,380.5 606,380.5 615,406.5" stroke="#ffffff" stroke-width="1"/>
<path d="M 572.6,465 L 571,474 M 571.5,470.5 L 573.2,469 L 575,469 L 575.4,470 L 574.6,474 M 578,471.5 L 578,476 M 577.2,472.3 L 578,471.5" stroke="#00ffff" stroke-width="1" fill="none"/>
<polyline points="570.4,476.5 596.3,476.5" stroke="#ffffff" stroke-width="1"/>
<polyline points="584.7,466.3 584.7,486" stroke="#ffffff" stroke-width="1"/>
<polyline points="584.7,466.3 596.3,476.5 584.7,486" stroke="#ffffff" stroke-width="1"/>
<polyline points="596.3,476 627.5,423.5" stroke="#ffffff" stroke-width="1"/>
<polyline points="624,428 627.5,423.5" stroke="#00ffff" stroke-width="1"/>
<circle cx="569.7" cy="500.6" r="7.6" stroke="#ffffff" stroke-width="1" fill="none"/>
<path d="M 566.5,498.69 L 567.55,497.3 L 567.55,504.7" stroke="#00ffff" stroke-width="1" fill="none"/>
<path d="M 570.5,498.69 L 571.55,497.3 L 572.95,497.3 L 574,498.69 L 574,500.07 L 570.5,504.7 L 574,504.7" stroke="#00ffff" stroke-width="1" fill="none"/>
<polyline points="577.3,493.5 583.6,501 577.3,508" stroke="#ffffff" stroke-width="1"/>
<polyline points="583.6,501.5 606.7,501.5" stroke="#ffffff" stroke-width="1"/>
<polyline points="592.8,493 592.8,510" stroke="#ffffff" stroke-width="1"/>
<polyline points="599.8,493 592.8,501.5 599.8,510" stroke="#ffffff" stroke-width="1"/>
<polyline points="606.7,501.5 627.5,453.6" stroke="#ffffff" stroke-width="1"/>
<polyline points="625,458 627.5,453.6" stroke="#00ffff" stroke-width="1"/>
<polyline points="695.7,395 740.5,395 740.5,397.5 695.7,397.5" stroke="#ffff00" stroke-width="1"/>
<polyline points="695.7,450 740.5,450 740.5,453.5 695.7,453.5" stroke="#ffff00" stroke-width="1"/>
<rect x="696.5" y="402.5" width="18" height="41" stroke="#ffff00" stroke-width="1"/>
<polyline points="700.6,406.8 703.8,406.8" stroke="#ff00ff" stroke-width="1"/>
<polyline points="702.2,405.2 702.2,408.4" stroke="#ff00ff" stroke-width="1"/>
<polyline points="700.6,415.1 703.8,415.1" stroke="#ff00ff" stroke-width="1"/>
<polyline points="702.2,413.5 702.2,416.7" stroke="#ff00ff" stroke-width="1"/>
<polyline points="700.6,423.1 703.8,423.1" stroke="#ff00ff" stroke-width="1"/>
<polyline points="702.2,421.5 702.2,424.7" stroke="#ff00ff" stroke-width="1"/>
<polyline points="700.6,432 703.8,432" stroke="#ff00ff" stroke-width="1"/>
<polyline points="702.2,430.4 702.2,433.6" stroke="#ff00ff" stroke-width="1"/>
<polyline points="700.6,440 703.8,440" stroke="#ff00ff" stroke-width="1"/>
<polyline points="702.2,438.4 702.2,441.6" stroke="#ff00ff" stroke-width="1"/>
<polyline points="708,406.8 711.2,406.8" stroke="#ff00ff" stroke-width="1"/>
<polyline points="709.6,405.2 709.6,408.4" stroke="#ff00ff" stroke-width="1"/>
<polyline points="708,415.1 711.2,415.1" stroke="#ff00ff" stroke-width="1"/>
<polyline points="709.6,413.5 709.6,416.7" stroke="#ff00ff" stroke-width="1"/>
<polyline points="708,423.1 711.2,423.1" stroke="#ff00ff" stroke-width="1"/>
<polyline points="709.6,421.5 709.6,424.7" stroke="#ff00ff" stroke-width="1"/>
<polyline points="708,432 711.2,432" stroke="#ff00ff" stroke-width="1"/>
<polyline points="709.6,430.4 709.6,433.6" stroke="#ff00ff" stroke-width="1"/>
<polyline points="708,440 711.2,440" stroke="#ff00ff" stroke-width="1"/>
<polyline points="709.6,438.4 709.6,441.6" stroke="#ff00ff" stroke-width="1"/>
<polyline points="697.5,405 697.5,441" stroke="#00ff00" stroke-width="1" stroke-dasharray="5,4"/>
<polyline points="680,394.5 689,394.5" stroke="#00ff00" stroke-width="1"/>
<polyline points="680,397.5 689,397.5" stroke="#00ff00" stroke-width="1"/>
<polyline points="740.5,390.5 740.5,422" stroke="#ffffff" stroke-width="1"/>
<polyline points="740.5,421.5 740.5,423 733.5,423.5 747.5,423.5 740.5,425 740.5,427" stroke="#ffffff" stroke-width="1"/>
<polyline points="739,422.5 742,424.5" stroke="#ffffff" stroke-width="1"/>
<polyline points="740.5,427 740.5,457" stroke="#ffffff" stroke-width="1"/>
<polyline points="643.3,421.6 714.7,347.4" stroke="#ffffff" stroke-width="1"/>
<polyline points="643.3,421.6 648,416.5" stroke="#00ffff" stroke-width="1"/>
<circle cx="714.7" cy="347.4" r="3.2" stroke="#ffffff" stroke-width="1" fill="none" shape-rendering="geometricPrecision"/>
<polyline points="717.4,347.5 739.6,347.5" stroke="#ffffff" stroke-width="1"/>
<rect x="726.5" y="347.5" width="7.5" height="2.5" stroke="#ffffff" stroke-width="1"/>
<polyline points="726.6,338 726.6,347.5" stroke="#ffffff" stroke-width="1"/>
<polyline points="726.6,347.5 735.5,338.9" stroke="#ffffff" stroke-width="1"/>
<polyline points="746,340 739.6,347.4 746,355.3" stroke="#ffffff" stroke-width="1"/>
<circle cx="753" cy="347.4" r="7.1" stroke="#ffffff" stroke-width="1" fill="none"/>
<path d="M 749.1,345.49 L 750.15,344.1 L 751.55,344.1 L 752.6,345.49 L 752.6,346.87 L 749.1,351.5 L 752.6,351.5" stroke="#00ffff" stroke-width="1" fill="none"/>
<path d="M 757.3,347.61 L 754.85,347.61 L 753.8,346.41 L 753.8,345.49 L 754.85,344.1 L 756.25,344.1 L 757.3,345.49 L 757.3,350.11 L 756.25,351.5 L 754.85,351.5 L 753.8,350.39" stroke="#00ffff" stroke-width="1" fill="none"/>
<polygon points="717.4,355.3 729.9,363.1 717.4,363.1" fill="#00ff00" stroke="none" stroke-width="1"/>
<polyline points="717.4,355.8 717.4,363.6" stroke="#00ffff" stroke-width="1"/>
<polyline points="717.4,362.6 717.4,371" stroke="#ffffff" stroke-width="1"/>
<polyline points="717.4,370.5 741.4,370.5" stroke="#ffffff" stroke-width="1"/>
<rect x="728.5" y="370.5" width="8" height="3" stroke="#ffffff" stroke-width="1"/>
<polyline points="732.5,363 732.5,370.5" stroke="#ffffff" stroke-width="1"/>
<polyline points="732.5,370.5 740.5,363" stroke="#ffffff" stroke-width="1"/>
<polyline points="747.6,363 741.4,370.6 747.6,377.7" stroke="#ffffff" stroke-width="1"/>
<circle cx="755.6" cy="370.6" r="7.1" stroke="#ffffff" stroke-width="1" fill="none"/>
<path d="M 754.36,374.7 L 754.36,367.3 L 751.7,372.39 L 755.2,372.39" stroke="#00ffff" stroke-width="1" fill="none"/>
<path d="M 756.61,367.3 L 759.69,367.3 L 757.8,370.54 L 758.85,370.54 L 759.9,371.93 L 759.9,373.31 L 758.85,374.7 L 757.45,374.7 L 756.4,373.59" stroke="#00ffff" stroke-width="1" fill="none"/>
<polyline points="717.4,370.6 696.9,394" stroke="#ffffff" stroke-width="1"/>
<polyline points="697,394 700,390" stroke="#00ffff" stroke-width="1"/>
<polyline points="712.9,385.5 771.6,385.5" stroke="#ffffff" stroke-width="1"/>
<polyline points="745.8,394.5 771.6,394.5" stroke="#ffffff" stroke-width="1"/>
<polyline points="767.5,383 767.5,398" stroke="#ffffff" stroke-width="1"/>
<polyline points="766,383.5 769,386.5" stroke="#ff00ff" stroke-width="1"/>
<polyline points="766,392 769,395" stroke="#ff00ff" stroke-width="1"/>
<polyline points="756,386 764,386 763,390 757,391 763,392 763,396 757,396 757,393" stroke="#00ffff" stroke-width="1.2" fill="none"/>
<polyline points="760,396 756,402" stroke="#00ffff" stroke-width="1"/>
<polyline points="761,397 764,402" stroke="#00ffff" stroke-width="1"/>
<path d="M 745.49,408.25 C 745.49,406.45 746.64,405.71 747.95,405.71 C 749.43,405.71 750.41,406.61 750.41,408.09 C 750.41,409.89 747.95,410.38 747.95,412.02 L 747.95,413.17 M 747.95,415.63 L 747.95,416.45" stroke="#ffffff" stroke-width="1" fill="none"/>
<path d="M 753.25,408.25 C 753.25,406.45 754.4,405.71 755.71,405.71 C 757.19,405.71 758.17,406.61 758.17,408.09 C 758.17,409.89 755.71,410.38 755.71,412.02 L 755.71,413.17 M 755.71,415.63 L 755.71,416.45" stroke="#ffffff" stroke-width="1" fill="none"/>
<path d="M 768.42,407.2 L 764.56,407.2 L 764.38,410.96 L 767.32,410.96 L 768.7,412.57 L 768.7,414.19 L 767.32,415.8 L 765.48,415.8 L 764.1,414.51" stroke="#00ffff" stroke-width="1" fill="none"/>
<path d="M 771.88,407.2 L 773.72,407.2 L 774.82,408.49 L 774.82,410 L 773.72,411.28 L 771.88,411.28 L 770.78,410 L 770.78,408.49 Z M 771.88,411.28 L 770.5,412.9 L 770.5,414.19 L 771.88,415.8 L 773.72,415.8 L 775.1,414.19 L 775.1,412.9 L 773.72,411.28" stroke="#00ffff" stroke-width="1" fill="none"/>
<path d="M 777.99,408.25 C 777.99,406.45 779.14,405.71 780.45,405.71 C 781.93,405.71 782.91,406.61 782.91,408.09 C 782.91,409.89 780.45,410.38 780.45,412.02 L 780.45,413.17 M 780.45,415.63 L 780.45,416.45" stroke="#ffffff" stroke-width="1" fill="none"/>
<path d="M 785.95,408.25 C 785.95,406.45 787.1,405.71 788.41,405.71 C 789.89,405.71 790.87,406.61 790.87,408.09 C 790.87,409.89 788.41,410.38 788.41,412.02 L 788.41,413.17 M 788.41,415.63 L 788.41,416.45" stroke="#ffffff" stroke-width="1" fill="none"/>
<polyline points="706.3,418.5 793,418.5" stroke="#ffffff" stroke-width="1"/>
<path d="M 751.1,426.5 L 749.5,435.5 M 750,432 L 751.7,430.5 L 753.5,430.5 L 753.9,431.5 L 753.1,435.5 M 756.5,433 L 756.5,437.5 M 755.7,433.8 L 756.5,433" stroke="#00ffff" stroke-width="1" fill="none"/>
<polyline points="721.8,437.5 776,437.5" stroke="#ffffff" stroke-width="1"/>
<polyline points="721.8,437.4 696.4,424" stroke="#ffffff" stroke-width="1"/>
<polyline points="760,430 760,445" stroke="#ffffff" stroke-width="1"/>
<polyline points="760,430 769,437.5 760,445" stroke="#ffffff" stroke-width="1"/>
<polyline points="745,453.5 770.7,453.5" stroke="#ffffff" stroke-width="1"/>
<polyline points="711.7,461.5 770.7,461.5" stroke="#ffffff" stroke-width="1"/>
<polyline points="767,451 767,464" stroke="#ffffff" stroke-width="1"/>
<polyline points="766,451.5 769,454.5" stroke="#ff00ff" stroke-width="1"/>
<polyline points="766,459 769,462" stroke="#ff00ff" stroke-width="1"/>
<polyline points="756,454 764,454 763,457 757,458 763,459 763,462 757,462 757,460" stroke="#00ffff" stroke-width="1.2" fill="none"/>
<polyline points="760,462 756,468" stroke="#00ffff" stroke-width="1"/>
<polyline points="761,463 764,468" stroke="#00ffff" stroke-width="1"/>
<polyline points="705.8,440.9 721.8,486.3" stroke="#ffffff" stroke-width="1"/>
<polygon points="721.3,470.7 733.3,477.9 721.3,477.9" fill="#00ff00" stroke="none" stroke-width="1"/>
<polyline points="721.3,471.2 721.3,478.4" stroke="#00ffff" stroke-width="1"/>
<polyline points="721.3,477.4 721.3,486.5" stroke="#ffffff" stroke-width="1"/>
<polyline points="721.3,486.5 745,486.5" stroke="#ffffff" stroke-width="1"/>
<rect x="732.5" y="486.5" width="8" height="2.5" stroke="#ffffff" stroke-width="1"/>
<polyline points="736.6,477.5 736.6,486.5" stroke="#ffffff" stroke-width="1"/>
<polyline points="736.6,486.5 745,478" stroke="#ffffff" stroke-width="1"/>
<polyline points="751.2,478 745,486.3 751.2,493.4" stroke="#ffffff" stroke-width="1"/>
<circle cx="759.5" cy="485.4" r="7.1" stroke="#ffffff" stroke-width="1" fill="none"/>
<path d="M 758.26,489.5 L 758.26,482.1 L 755.6,487.19 L 759.1,487.19" stroke="#00ffff" stroke-width="1" fill="none"/>
<path d="M 760.51,482.1 L 763.59,482.1 L 761.7,485.34 L 762.75,485.34 L 763.8,486.72 L 763.8,488.11 L 762.75,489.5 L 761.35,489.5 L 760.3,488.39" stroke="#00ffff" stroke-width="1" fill="none"/>
<path transform="translate(646.3,527) skewX(-12)" d="M1.2,2.5 C1.5,0.5 3.5,0.2 5,0.2 C7,0.2 9,1.2 9,3 C9,5 6,6.5 0.5,11 L0.5,11.8 L7.5,11.8 L7.8,10.2" stroke="#00ffff" stroke-width="1.2" fill="none"/>
<path transform="translate(671.5,527) skewX(-12)" d="M1.2,2.5 C1.5,0.5 3.5,0.2 5,0.2 C7,0.2 9,1.2 9,3 C9,5 6,6.5 0.5,11 L0.5,11.8 L7.5,11.8 L7.8,10.2" stroke="#00ffff" stroke-width="1.2" fill="none"/>
<polyline points="658.2,533.5 666.8,533.5" stroke="#00ffff" stroke-width="1"/>
<polyline points="643.8,543.5 680.1,543.5" stroke="#ff0000" stroke-width="1"/>
</svg>
</body></html>
